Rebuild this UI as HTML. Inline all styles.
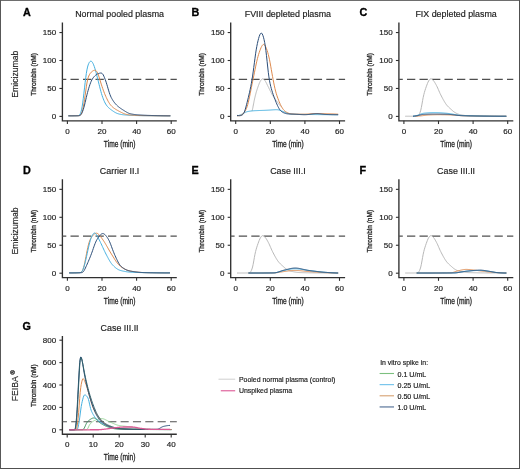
<!DOCTYPE html>
<html><head><meta charset="utf-8"><style>
html,body{margin:0;padding:0;background:#fff;width:520px;height:469px;overflow:hidden;}
svg text{font-family:"Liberation Sans", sans-serif;}
</style></head><body>
<svg width="520" height="469" viewBox="0 0 520 469" style="position:absolute;left:0;top:0;will-change:transform" font-family="Liberation Sans, sans-serif">
<rect x="0" y="0" width="520" height="469" fill="#fff"/>
<path d="M62.4,22.5 V120.85 H176.8" fill="none" stroke="#303030" stroke-width="1.35"/>
<path d="M59.4,116.4 H62.4" stroke="#303030" stroke-width="1.1"/>
<text x="56.1" y="119.25" font-size="8" text-anchor="end" font-weight="normal" fill="#1e1e1e" stroke="#1e1e1e" stroke-width="0.18" >0</text>
<path d="M59.4,88.45 H62.4" stroke="#303030" stroke-width="1.1"/>
<text x="56.1" y="91.3" font-size="8" text-anchor="end" font-weight="normal" fill="#1e1e1e" stroke="#1e1e1e" stroke-width="0.18" >50</text>
<path d="M59.4,60.5 H62.4" stroke="#303030" stroke-width="1.1"/>
<text x="56.1" y="63.35" font-size="8" text-anchor="end" font-weight="normal" fill="#1e1e1e" stroke="#1e1e1e" stroke-width="0.18" >100</text>
<path d="M59.4,32.55 H62.4" stroke="#303030" stroke-width="1.1"/>
<text x="56.1" y="35.4" font-size="8" text-anchor="end" font-weight="normal" fill="#1e1e1e" stroke="#1e1e1e" stroke-width="0.18" >150</text>
<path d="M67.4,120.85 V124.05" stroke="#303030" stroke-width="1.1"/>
<text x="67.4" y="133.95" font-size="8" text-anchor="middle" font-weight="normal" fill="#1e1e1e" stroke="#1e1e1e" stroke-width="0.18" >0</text>
<path d="M102,120.85 V124.05" stroke="#303030" stroke-width="1.1"/>
<text x="102" y="133.95" font-size="8" text-anchor="middle" font-weight="normal" fill="#1e1e1e" stroke="#1e1e1e" stroke-width="0.18" >20</text>
<path d="M136.6,120.85 V124.05" stroke="#303030" stroke-width="1.1"/>
<text x="136.6" y="133.95" font-size="8" text-anchor="middle" font-weight="normal" fill="#1e1e1e" stroke="#1e1e1e" stroke-width="0.18" >40</text>
<path d="M171.2,120.85 V124.05" stroke="#303030" stroke-width="1.1"/>
<text x="171.2" y="133.95" font-size="8" text-anchor="middle" font-weight="normal" fill="#1e1e1e" stroke="#1e1e1e" stroke-width="0.18" >60</text>
<text transform="translate(119.6,146.75) scale(0.74,1)" font-size="9" text-anchor="middle" fill="#222" stroke="#222" stroke-width="0.3">Time (min)</text>
<text x="119.6" y="17.3" font-size="8.9" text-anchor="middle" font-weight="normal" fill="#1e1e1e" stroke="#1e1e1e" stroke-width="0.18" >Normal pooled plasma</text>
<text x="23.1" y="16.2" font-size="10.8" text-anchor="start" font-weight="bold" fill="#000" stroke="#000" stroke-width="0.3" >A</text>
<text transform="translate(35.8,74.47) rotate(-90) scale(0.815,1)" font-size="8" text-anchor="middle" fill="#222" stroke="#222" stroke-width="0.3">Thrombin (nM)</text>
<path d="M62.4,79.34 H176.8" stroke="#505050" stroke-width="1.1" stroke-dasharray="8.3 4.2" stroke-dashoffset="4.4"/>
<path d="M68.78,115.84 L69.39,115.84 L70,115.84 L70.6,115.84 L71.21,115.83 L71.81,115.83 L72.42,115.83 L73.02,115.82 L73.63,115.82 L74.23,115.81 L74.84,115.8 L75.44,115.79 L76.05,115.78 L76.66,115.76 L77.26,115.74 L77.87,115.7 L78.47,115.6 L79.08,115.35 L79.68,114.8 L80.29,113.81 L80.89,112.21 L81.5,109.91 L82.11,106.81 L82.71,102.9 L83.32,98.29 L83.92,93.18 L84.53,87.86 L85.13,82.62 L85.74,77.74 L86.34,73.44 L86.95,69.86 L87.55,67.05 L88.16,64.95 L88.77,63.43 L89.37,62.34 L89.98,61.6 L90.58,61.2 L91.19,61.19 L91.79,61.57 L92.4,62.35 L93,63.45 L93.61,64.81 L94.22,66.39 L94.82,68.18 L95.43,70.19 L96.03,72.38 L96.64,74.71 L97.24,77.09 L97.85,79.5 L98.45,81.92 L99.06,84.34 L99.66,86.76 L100.27,89.14 L100.88,91.42 L101.48,93.55 L102.09,95.51 L102.69,97.29 L103.3,98.92 L103.9,100.42 L104.51,101.78 L105.11,103.01 L105.72,104.09 L106.33,105.03 L106.93,105.85 L107.54,106.57 L108.14,107.22 L108.75,107.81 L109.35,108.35 L109.96,108.85 L110.56,109.33 L111.17,109.78 L111.77,110.22 L112.38,110.65 L112.99,111.07 L113.59,111.48 L114.2,111.87 L114.8,112.25 L115.41,112.59 L116.01,112.91 L116.62,113.19 L117.22,113.44 L117.83,113.65 L118.44,113.84 L119.04,114.01 L119.65,114.16 L120.25,114.3 L120.86,114.42 L121.46,114.53 L122.07,114.62 L122.67,114.7 L123.28,114.77 L123.88,114.83 L124.49,114.89 L125.1,114.94 L125.7,115 L126.31,115.05 L126.91,115.1 L127.52,115.14 L128.12,115.19 L128.73,115.23 L129.33,115.27 L129.94,115.3 L130.55,115.34 L131.15,115.37 L131.76,115.4 L132.36,115.43 L132.97,115.46 L133.57,115.48 L134.18,115.5 L134.78,115.52 L135.39,115.53 L135.99,115.55 L136.6,115.56 L137.21,115.57 L137.81,115.58 L138.42,115.59 L139.02,115.6 L139.63,115.61 L140.23,115.62 L140.84,115.63 L141.44,115.64 L142.05,115.64 L142.66,115.65 L143.26,115.66 L143.87,115.67 L144.47,115.68 L145.08,115.68 L145.68,115.69 L146.29,115.7 L146.89,115.71 L147.5,115.71 L148.1,115.72 L148.71,115.73 L149.32,115.73 L149.92,115.74 L150.53,115.74 L151.13,115.75 L151.74,115.76 L152.34,115.76 L152.95,115.77 L153.55,115.77 L154.16,115.78 L154.77,115.78 L155.37,115.79 L155.98,115.79 L156.58,115.79 L157.19,115.8 L157.79,115.8 L158.4,115.81 L159,115.81 L159.61,115.81 L160.21,115.82 L160.82,115.82 L161.43,115.82 L162.03,115.82 L162.64,115.83 L163.24,115.83 L163.85,115.83 L164.45,115.83 L165.06,115.83 L165.66,115.84 L166.27,115.84 L166.88,115.84 L167.48,115.84 L168.09,115.84 L168.69,115.84 L169.3,115.84 L169.9,115.84 L169.99,115.84" fill="none" stroke="#45b0e0" stroke-width="1.0" stroke-opacity="1.0" stroke-linejoin="round" stroke-linecap="round"/>
<path d="M68.78,115.84 L69.39,115.84 L70,115.84 L70.6,115.84 L71.21,115.84 L71.81,115.83 L72.42,115.83 L73.02,115.83 L73.63,115.82 L74.23,115.81 L74.84,115.81 L75.44,115.8 L76.05,115.79 L76.66,115.78 L77.26,115.76 L77.87,115.75 L78.47,115.72 L79.08,115.66 L79.68,115.51 L80.29,115.16 L80.89,114.48 L81.5,113.36 L82.11,111.74 L82.71,109.56 L83.32,106.79 L83.92,103.44 L84.53,99.59 L85.13,95.39 L85.74,91.04 L86.34,86.83 L86.95,83.07 L87.55,80.03 L88.16,77.73 L88.77,76.04 L89.37,74.76 L89.98,73.76 L90.58,72.95 L91.19,72.28 L91.79,71.72 L92.4,71.23 L93,70.82 L93.61,70.51 L94.22,70.32 L94.82,70.28 L95.43,70.41 L96.03,70.75 L96.64,71.33 L97.24,72.2 L97.85,73.45 L98.45,75.07 L99.06,76.98 L99.66,79.01 L100.27,81.03 L100.88,82.98 L101.48,84.87 L102.09,86.69 L102.69,88.46 L103.3,90.17 L103.9,91.81 L104.51,93.37 L105.11,94.86 L105.72,96.27 L106.33,97.61 L106.93,98.89 L107.54,100.11 L108.14,101.27 L108.75,102.34 L109.35,103.32 L109.96,104.2 L110.56,104.98 L111.17,105.67 L111.77,106.29 L112.38,106.85 L112.99,107.37 L113.59,107.86 L114.2,108.31 L114.8,108.73 L115.41,109.13 L116.01,109.51 L116.62,109.87 L117.22,110.22 L117.83,110.55 L118.44,110.89 L119.04,111.22 L119.65,111.54 L120.25,111.86 L120.86,112.18 L121.46,112.48 L122.07,112.78 L122.67,113.06 L123.28,113.33 L123.88,113.58 L124.49,113.81 L125.1,114.02 L125.7,114.21 L126.31,114.37 L126.91,114.51 L127.52,114.63 L128.12,114.72 L128.73,114.8 L129.33,114.88 L129.94,114.94 L130.55,115 L131.15,115.06 L131.76,115.12 L132.36,115.17 L132.97,115.22 L133.57,115.26 L134.18,115.3 L134.78,115.34 L135.39,115.38 L135.99,115.41 L136.6,115.44 L137.21,115.47 L137.81,115.49 L138.42,115.52 L139.02,115.53 L139.63,115.55 L140.23,115.56 L140.84,115.57 L141.44,115.59 L142.05,115.6 L142.66,115.61 L143.26,115.62 L143.87,115.63 L144.47,115.64 L145.08,115.65 L145.68,115.66 L146.29,115.66 L146.89,115.67 L147.5,115.68 L148.1,115.69 L148.71,115.7 L149.32,115.71 L149.92,115.71 L150.53,115.72 L151.13,115.73 L151.74,115.74 L152.34,115.74 L152.95,115.75 L153.55,115.76 L154.16,115.76 L154.77,115.77 L155.37,115.77 L155.98,115.78 L156.58,115.78 L157.19,115.79 L157.79,115.79 L158.4,115.8 L159,115.8 L159.61,115.81 L160.21,115.81 L160.82,115.81 L161.43,115.82 L162.03,115.82 L162.64,115.82 L163.24,115.83 L163.85,115.83 L164.45,115.83 L165.06,115.83 L165.66,115.83 L166.27,115.84 L166.88,115.84 L167.48,115.84 L168.09,115.84 L168.69,115.84 L169.3,115.84 L169.9,115.84 L169.99,115.84" fill="none" stroke="#de8a4e" stroke-width="1.0" stroke-opacity="1.0" stroke-linejoin="round" stroke-linecap="round"/>
<path d="M68.78,115.84 L69.39,115.84 L70,115.84 L70.6,115.84 L71.21,115.84 L71.81,115.83 L72.42,115.83 L73.02,115.82 L73.63,115.82 L74.23,115.81 L74.84,115.8 L75.44,115.8 L76.05,115.79 L76.66,115.77 L77.26,115.76 L77.87,115.75 L78.47,115.72 L79.08,115.67 L79.68,115.54 L80.29,115.26 L80.89,114.71 L81.5,113.85 L82.11,112.65 L82.71,111.16 L83.32,109.39 L83.92,107.35 L84.53,105.05 L85.13,102.55 L85.74,99.94 L86.34,97.33 L86.95,94.82 L87.55,92.46 L88.16,90.25 L88.77,88.19 L89.37,86.24 L89.98,84.42 L90.58,82.76 L91.19,81.29 L91.79,80.02 L92.4,78.95 L93,78.04 L93.61,77.25 L94.22,76.54 L94.82,75.91 L95.43,75.35 L96.03,74.87 L96.64,74.46 L97.24,74.12 L97.85,73.83 L98.45,73.58 L99.06,73.37 L99.66,73.19 L100.27,73.07 L100.88,73.02 L101.48,73.11 L102.09,73.43 L102.69,74.06 L103.3,75.01 L103.9,76.25 L104.51,77.69 L105.11,79.26 L105.72,80.95 L106.33,82.77 L106.93,84.71 L107.54,86.76 L108.14,88.84 L108.75,90.88 L109.35,92.79 L109.96,94.52 L110.56,96.04 L111.17,97.36 L111.77,98.53 L112.38,99.58 L112.99,100.55 L113.59,101.44 L114.2,102.28 L114.8,103.05 L115.41,103.78 L116.01,104.45 L116.62,105.07 L117.22,105.66 L117.83,106.21 L118.44,106.72 L119.04,107.21 L119.65,107.67 L120.25,108.11 L120.86,108.53 L121.46,108.93 L122.07,109.33 L122.67,109.72 L123.28,110.1 L123.88,110.48 L124.49,110.86 L125.1,111.25 L125.7,111.62 L126.31,111.99 L126.91,112.35 L127.52,112.67 L128.12,112.97 L128.73,113.23 L129.33,113.45 L129.94,113.63 L130.55,113.79 L131.15,113.93 L131.76,114.05 L132.36,114.17 L132.97,114.27 L133.57,114.37 L134.18,114.45 L134.78,114.53 L135.39,114.6 L135.99,114.66 L136.6,114.72 L137.21,114.77 L137.81,114.81 L138.42,114.86 L139.02,114.9 L139.63,114.94 L140.23,114.98 L140.84,115.02 L141.44,115.06 L142.05,115.09 L142.66,115.13 L143.26,115.16 L143.87,115.19 L144.47,115.22 L145.08,115.25 L145.68,115.28 L146.29,115.31 L146.89,115.33 L147.5,115.36 L148.1,115.38 L148.71,115.4 L149.32,115.42 L149.92,115.44 L150.53,115.46 L151.13,115.48 L151.74,115.5 L152.34,115.52 L152.95,115.54 L153.55,115.55 L154.16,115.57 L154.77,115.58 L155.37,115.6 L155.98,115.61 L156.58,115.63 L157.19,115.64 L157.79,115.66 L158.4,115.67 L159,115.69 L159.61,115.7 L160.21,115.71 L160.82,115.72 L161.43,115.74 L162.03,115.75 L162.64,115.76 L163.24,115.77 L163.85,115.78 L164.45,115.79 L165.06,115.8 L165.66,115.81 L166.27,115.81 L166.88,115.82 L167.48,115.83 L168.09,115.83 L168.69,115.83 L169.3,115.84 L169.9,115.84 L169.99,115.84" fill="none" stroke="#2b4d78" stroke-width="1.0" stroke-opacity="1.0" stroke-linejoin="round" stroke-linecap="round"/>
<path d="M230.7,22.5 V120.85 H345.1" fill="none" stroke="#303030" stroke-width="1.35"/>
<path d="M227.7,116.4 H230.7" stroke="#303030" stroke-width="1.1"/>
<text x="224.4" y="119.25" font-size="8" text-anchor="end" font-weight="normal" fill="#1e1e1e" stroke="#1e1e1e" stroke-width="0.18" >0</text>
<path d="M227.7,88.45 H230.7" stroke="#303030" stroke-width="1.1"/>
<text x="224.4" y="91.3" font-size="8" text-anchor="end" font-weight="normal" fill="#1e1e1e" stroke="#1e1e1e" stroke-width="0.18" >50</text>
<path d="M227.7,60.5 H230.7" stroke="#303030" stroke-width="1.1"/>
<text x="224.4" y="63.35" font-size="8" text-anchor="end" font-weight="normal" fill="#1e1e1e" stroke="#1e1e1e" stroke-width="0.18" >100</text>
<path d="M227.7,32.55 H230.7" stroke="#303030" stroke-width="1.1"/>
<text x="224.4" y="35.4" font-size="8" text-anchor="end" font-weight="normal" fill="#1e1e1e" stroke="#1e1e1e" stroke-width="0.18" >150</text>
<path d="M235.7,120.85 V124.05" stroke="#303030" stroke-width="1.1"/>
<text x="235.7" y="133.95" font-size="8" text-anchor="middle" font-weight="normal" fill="#1e1e1e" stroke="#1e1e1e" stroke-width="0.18" >0</text>
<path d="M270.3,120.85 V124.05" stroke="#303030" stroke-width="1.1"/>
<text x="270.3" y="133.95" font-size="8" text-anchor="middle" font-weight="normal" fill="#1e1e1e" stroke="#1e1e1e" stroke-width="0.18" >20</text>
<path d="M304.9,120.85 V124.05" stroke="#303030" stroke-width="1.1"/>
<text x="304.9" y="133.95" font-size="8" text-anchor="middle" font-weight="normal" fill="#1e1e1e" stroke="#1e1e1e" stroke-width="0.18" >40</text>
<path d="M339.5,120.85 V124.05" stroke="#303030" stroke-width="1.1"/>
<text x="339.5" y="133.95" font-size="8" text-anchor="middle" font-weight="normal" fill="#1e1e1e" stroke="#1e1e1e" stroke-width="0.18" >60</text>
<text transform="translate(287.9,146.75) scale(0.74,1)" font-size="9" text-anchor="middle" fill="#222" stroke="#222" stroke-width="0.3">Time (min)</text>
<text x="287.9" y="17.3" font-size="8.9" text-anchor="middle" font-weight="normal" fill="#1e1e1e" stroke="#1e1e1e" stroke-width="0.18" >FVIII depleted plasma</text>
<text x="191.4" y="16.2" font-size="10.8" text-anchor="start" font-weight="bold" fill="#000" stroke="#000" stroke-width="0.3" >B</text>
<text transform="translate(204.1,74.47) rotate(-90) scale(0.815,1)" font-size="8" text-anchor="middle" fill="#222" stroke="#222" stroke-width="0.3">Thrombin (nM)</text>
<path d="M230.7,79.34 H345.1" stroke="#505050" stroke-width="1.1" stroke-dasharray="8.3 4.2" stroke-dashoffset="4.4"/>
<path d="M252.13,110.7 L252.31,110.13 L252.48,109.44 L252.65,108.64 L252.83,107.78 L253,106.87 L253.17,105.95 L253.35,105.03 L253.52,104.11 L253.69,103.21 L253.87,102.33 L254.04,101.46 L254.21,100.62 L254.38,99.8 L254.56,99 L254.73,98.22 L254.9,97.46 L255.08,96.72 L255.25,96 L255.42,95.31 L255.6,94.63 L255.77,93.97 L255.94,93.33 L256.11,92.71 L256.29,92.11 L256.46,91.52 L256.63,90.94 L256.81,90.38 L256.98,89.84 L257.15,89.3 L257.33,88.78 L257.5,88.27 L257.67,87.77 L257.84,87.28 L258.02,86.79 L258.19,86.31 L258.36,85.83 L258.54,85.36 L258.71,84.9 L258.88,84.44 L259.06,83.99 L259.23,83.55 L259.4,83.12 L259.57,82.71 L259.75,82.32 L259.92,81.95 L260.09,81.6 L260.27,81.27 L260.44,80.97 L260.61,80.69 L260.79,80.43 L260.96,80.18 L261.13,79.96 L261.3,79.75 L261.48,79.56 L261.65,79.38 L261.82,79.22 L262,79.09 L262.17,78.98 L262.34,78.9 L262.52,78.84 L262.69,78.82 L262.86,78.83 L263.03,78.87 L263.21,78.94 L263.38,79.04 L263.55,79.16 L263.73,79.29 L263.9,79.45 L264.07,79.62 L264.25,79.8 L264.42,79.98 L264.59,80.18 L264.76,80.39 L264.94,80.61 L265.11,80.85 L265.28,81.1 L265.46,81.36 L265.63,81.64 L265.8,81.94 L265.98,82.25 L266.15,82.57 L266.32,82.9 L266.49,83.24 L266.67,83.59 L266.84,83.94 L267.01,84.3 L267.19,84.65 L267.36,85.01 L267.53,85.37 L267.71,85.72 L267.88,86.07 L268.05,86.42 L268.22,86.76 L268.4,87.11 L268.57,87.45 L268.74,87.79 L268.92,88.14 L269.09,88.49 L269.26,88.84 L269.44,89.19 L269.61,89.54 L269.78,89.89 L269.95,90.24 L270.13,90.6 L270.3,90.95 L270.47,91.3 L270.65,91.65 L270.82,91.99 L270.99,92.34 L271.17,92.67 L271.34,93.01 L271.51,93.34 L271.68,93.66 L271.86,93.98 L272.03,94.29 L272.2,94.6 L272.38,94.89 L272.55,95.19 L272.72,95.47 L272.9,95.75 L273.07,96.03 L273.24,96.3 L273.41,96.57 L273.59,96.83 L273.76,97.09 L273.93,97.35 L274.11,97.6 L274.28,97.85 L274.45,98.1 L274.63,98.34 L274.8,98.59 L274.97,98.83 L275.14,99.07 L275.32,99.3 L275.49,99.54 L275.66,99.77 L275.84,100 L276.01,100.24 L276.18,100.47 L276.36,100.7 L276.53,100.92 L276.7,101.15 L276.87,101.38 L277.05,101.61 L277.22,101.84 L277.39,102.07 L277.57,102.3 L277.74,102.52 L277.91,102.75 L278.09,102.98 L278.26,103.21 L278.43,103.44 L278.6,103.67 L278.78,103.9 L278.95,104.12 L279.12,104.35 L279.3,104.57 L279.47,104.79 L279.64,105.01 L279.82,105.23 L279.99,105.43 L280.16,105.63 L280.33,105.8 L280.51,105.95 L280.68,106.08" fill="none" stroke="#b8b8b8" stroke-width="1.0" stroke-opacity="1.0" stroke-linejoin="round" stroke-linecap="round"/>
<path d="M237.43,115.73 L238.04,115.62 L238.64,115.47 L239.25,115.29 L239.85,115.09 L240.46,114.85 L241.06,114.59 L241.67,114.29 L242.27,113.96 L242.88,113.61 L243.48,113.25 L244.09,112.9 L244.7,112.57 L245.3,112.29 L245.91,112.05 L246.51,111.86 L247.12,111.7 L247.72,111.56 L248.33,111.44 L248.93,111.33 L249.54,111.22 L250.15,111.13 L250.75,111.05 L251.36,110.97 L251.96,110.91 L252.57,110.85 L253.17,110.81 L253.78,110.76 L254.38,110.73 L254.99,110.69 L255.59,110.66 L256.2,110.63 L256.81,110.61 L257.41,110.58 L258.02,110.56 L258.62,110.54 L259.23,110.51 L259.83,110.49 L260.44,110.48 L261.04,110.46 L261.65,110.44 L262.26,110.42 L262.86,110.4 L263.47,110.38 L264.07,110.36 L264.68,110.34 L265.28,110.31 L265.89,110.29 L266.49,110.26 L267.1,110.23 L267.71,110.2 L268.31,110.17 L268.92,110.13 L269.52,110.09 L270.13,110.05 L270.73,110 L271.34,109.96 L271.94,109.92 L272.55,109.88 L273.15,109.84 L273.76,109.81 L274.37,109.78 L274.97,109.75 L275.58,109.73 L276.18,109.72 L276.79,109.72 L277.39,109.75 L278,109.82 L278.6,109.92 L279.21,110.06 L279.82,110.25 L280.42,110.46 L281.03,110.69 L281.63,110.93 L282.24,111.18 L282.84,111.43 L283.45,111.66 L284.05,111.89 L284.66,112.12 L285.26,112.35 L285.87,112.59 L286.48,112.83 L287.08,113.07 L287.69,113.3 L288.29,113.51 L288.9,113.71 L289.5,113.87 L290.11,113.99 L290.71,114.09 L291.32,114.15 L291.93,114.19 L292.53,114.22 L293.14,114.24 L293.74,114.26 L294.35,114.27 L294.95,114.29 L295.56,114.31 L296.16,114.32 L296.77,114.33 L297.37,114.34 L297.98,114.35 L298.59,114.36 L299.19,114.37 L299.8,114.38 L300.4,114.39 L301.01,114.4 L301.61,114.4 L302.22,114.41 L302.82,114.42 L303.43,114.43 L304.04,114.43 L304.64,114.44 L305.25,114.45 L305.85,114.46 L306.46,114.46 L307.06,114.47 L307.67,114.48 L308.27,114.49 L308.88,114.49 L309.48,114.5 L310.09,114.51 L310.7,114.52 L311.3,114.52 L311.91,114.53 L312.51,114.54 L313.12,114.55 L313.72,114.55 L314.33,114.56 L314.93,114.57 L315.54,114.57 L316.15,114.58 L316.75,114.59 L317.36,114.59 L317.96,114.6 L318.57,114.61 L319.17,114.61 L319.78,114.62 L320.38,114.62 L320.99,114.63 L321.59,114.64 L322.2,114.64 L322.81,114.65 L323.41,114.65 L324.02,114.66 L324.62,114.66 L325.23,114.67 L325.83,114.67 L326.44,114.68 L327.04,114.68 L327.65,114.69 L328.26,114.69 L328.86,114.69 L329.47,114.7 L330.07,114.7 L330.68,114.7 L331.28,114.71 L331.89,114.71 L332.49,114.71 L333.1,114.71 L333.7,114.72 L334.31,114.72 L334.92,114.72 L335.52,114.72 L336.13,114.72 L336.73,114.72 L337.34,114.72 L337.77,114.72" fill="none" stroke="#45b0e0" stroke-width="1.0" stroke-opacity="1.0" stroke-linejoin="round" stroke-linecap="round"/>
<path d="M237.43,115.81 L238.04,115.77 L238.64,115.71 L239.25,115.62 L239.85,115.49 L240.46,115.33 L241.06,115.1 L241.67,114.79 L242.27,114.39 L242.88,113.87 L243.48,113.26 L244.09,112.53 L244.7,111.71 L245.3,110.76 L245.91,109.64 L246.51,108.28 L247.12,106.61 L247.72,104.59 L248.33,102.24 L248.93,99.61 L249.54,96.77 L250.15,93.78 L250.75,90.71 L251.36,87.63 L251.96,84.6 L252.57,81.62 L253.17,78.69 L253.78,75.76 L254.38,72.8 L254.99,69.82 L255.59,66.86 L256.2,63.97 L256.81,61.23 L257.41,58.7 L258.02,56.41 L258.62,54.35 L259.23,52.48 L259.83,50.76 L260.44,49.16 L261.04,47.71 L261.65,46.45 L262.26,45.44 L262.86,44.74 L263.47,44.42 L264.07,44.51 L264.68,45.02 L265.28,45.93 L265.89,47.18 L266.49,48.7 L267.1,50.44 L267.71,52.38 L268.31,54.54 L268.92,57 L269.52,59.77 L270.13,62.86 L270.73,66.19 L271.34,69.64 L271.94,73.11 L272.55,76.5 L273.15,79.78 L273.76,82.92 L274.37,85.88 L274.97,88.61 L275.58,91.08 L276.18,93.26 L276.79,95.22 L277.39,97 L278,98.67 L278.6,100.25 L279.21,101.77 L279.82,103.21 L280.42,104.55 L281.03,105.78 L281.63,106.89 L282.24,107.89 L282.84,108.79 L283.45,109.59 L284.05,110.29 L284.66,110.89 L285.26,111.39 L285.87,111.81 L286.48,112.19 L287.08,112.52 L287.69,112.82 L288.29,113.09 L288.9,113.33 L289.5,113.52 L290.11,113.67 L290.71,113.79 L291.32,113.88 L291.93,113.95 L292.53,114 L293.14,114.04 L293.74,114.08 L294.35,114.11 L294.95,114.13 L295.56,114.15 L296.16,114.16 L296.77,114.16 L297.37,114.16 L297.98,114.16 L298.59,114.16 L299.19,114.16 L299.8,114.16 L300.4,114.16 L301.01,114.16 L301.61,114.16 L302.22,114.16 L302.82,114.16 L303.43,114.16 L304.04,114.16 L304.64,114.16 L305.25,114.15 L305.85,114.13 L306.46,114.1 L307.06,114.06 L307.67,114.02 L308.27,113.97 L308.88,113.92 L309.48,113.86 L310.09,113.81 L310.7,113.76 L311.3,113.71 L311.91,113.67 L312.51,113.64 L313.12,113.62 L313.72,113.61 L314.33,113.61 L314.93,113.61 L315.54,113.61 L316.15,113.61 L316.75,113.61 L317.36,113.61 L317.96,113.61 L318.57,113.61 L319.17,113.61 L319.78,113.62 L320.38,113.62 L320.99,113.62 L321.59,113.63 L322.2,113.63 L322.81,113.64 L323.41,113.64 L324.02,113.65 L324.62,113.66 L325.23,113.67 L325.83,113.68 L326.44,113.69 L327.04,113.7 L327.65,113.72 L328.26,113.73 L328.86,113.75 L329.47,113.77 L330.07,113.78 L330.68,113.8 L331.28,113.83 L331.89,113.85 L332.49,113.87 L333.1,113.9 L333.7,113.93 L334.31,113.96 L334.92,113.99 L335.52,114.02 L336.13,114.06 L336.73,114.09 L337.34,114.12 L337.77,114.14" fill="none" stroke="#de8a4e" stroke-width="1.0" stroke-opacity="1.0" stroke-linejoin="round" stroke-linecap="round"/>
<path d="M237.43,115.44 L238.04,115.55 L238.64,115.65 L239.25,115.71 L239.85,115.7 L240.46,115.61 L241.06,115.47 L241.67,115.25 L242.27,114.92 L242.88,114.43 L243.48,113.67 L244.09,112.55 L244.7,111.04 L245.3,109.19 L245.91,107.06 L246.51,104.77 L247.12,102.39 L247.72,99.96 L248.33,97.49 L248.93,94.95 L249.54,92.31 L250.15,89.52 L250.75,86.55 L251.36,83.38 L251.96,79.93 L252.57,76.12 L253.17,71.94 L253.78,67.45 L254.38,62.79 L254.99,58.18 L255.59,53.82 L256.2,49.88 L256.81,46.42 L257.41,43.42 L258.02,40.78 L258.62,38.45 L259.23,36.42 L259.83,34.79 L260.44,33.65 L261.04,33.1 L261.65,33.2 L262.26,33.96 L262.86,35.33 L263.47,37.23 L264.07,39.63 L264.68,42.55 L265.28,46.14 L265.89,50.52 L266.49,55.67 L267.1,61.3 L267.71,67.01 L268.31,72.31 L268.92,76.91 L269.52,80.71 L270.13,83.81 L270.73,86.42 L271.34,88.7 L271.94,90.77 L272.55,92.68 L273.15,94.47 L273.76,96.17 L274.37,97.81 L274.97,99.41 L275.58,100.97 L276.18,102.5 L276.79,103.95 L277.39,105.32 L278,106.58 L278.6,107.74 L279.21,108.78 L279.82,109.7 L280.42,110.48 L281.03,111.1 L281.63,111.6 L282.24,112.01 L282.84,112.36 L283.45,112.66 L284.05,112.93 L284.66,113.17 L285.26,113.38 L285.87,113.55 L286.48,113.68 L287.08,113.79 L287.69,113.86 L288.29,113.91 L288.9,113.95 L289.5,113.99 L290.11,114.01 L290.71,114.03 L291.32,114.05 L291.93,114.07 L292.53,114.09 L293.14,114.11 L293.74,114.14 L294.35,114.16 L294.95,114.19 L295.56,114.22 L296.16,114.26 L296.77,114.3 L297.37,114.34 L297.98,114.38 L298.59,114.42 L299.19,114.46 L299.8,114.51 L300.4,114.55 L301.01,114.58 L301.61,114.62 L302.22,114.65 L302.82,114.67 L303.43,114.69 L304.04,114.7 L304.64,114.71 L305.25,114.7 L305.85,114.68 L306.46,114.65 L307.06,114.61 L307.67,114.56 L308.27,114.5 L308.88,114.43 L309.48,114.36 L310.09,114.28 L310.7,114.2 L311.3,114.12 L311.91,114.04 L312.51,113.96 L313.12,113.89 L313.72,113.82 L314.33,113.76 L314.93,113.71 L315.54,113.67 L316.15,113.64 L316.75,113.63 L317.36,113.63 L317.96,113.65 L318.57,113.69 L319.17,113.74 L319.78,113.8 L320.38,113.87 L320.99,113.94 L321.59,114.02 L322.2,114.1 L322.81,114.17 L323.41,114.24 L324.02,114.31 L324.62,114.36 L325.23,114.41 L325.83,114.44 L326.44,114.47 L327.04,114.49 L327.65,114.52 L328.26,114.54 L328.86,114.56 L329.47,114.58 L330.07,114.6 L330.68,114.61 L331.28,114.63 L331.89,114.64 L332.49,114.66 L333.1,114.67 L333.7,114.68 L334.31,114.69 L334.92,114.7 L335.52,114.71 L336.13,114.71 L336.73,114.72 L337.34,114.72 L337.77,114.72" fill="none" stroke="#2b4d78" stroke-width="1.0" stroke-opacity="1.0" stroke-linejoin="round" stroke-linecap="round"/>
<path d="M398.9,22.5 V120.85 H513.3" fill="none" stroke="#303030" stroke-width="1.35"/>
<path d="M395.9,116.4 H398.9" stroke="#303030" stroke-width="1.1"/>
<text x="392.6" y="119.25" font-size="8" text-anchor="end" font-weight="normal" fill="#1e1e1e" stroke="#1e1e1e" stroke-width="0.18" >0</text>
<path d="M395.9,88.45 H398.9" stroke="#303030" stroke-width="1.1"/>
<text x="392.6" y="91.3" font-size="8" text-anchor="end" font-weight="normal" fill="#1e1e1e" stroke="#1e1e1e" stroke-width="0.18" >50</text>
<path d="M395.9,60.5 H398.9" stroke="#303030" stroke-width="1.1"/>
<text x="392.6" y="63.35" font-size="8" text-anchor="end" font-weight="normal" fill="#1e1e1e" stroke="#1e1e1e" stroke-width="0.18" >100</text>
<path d="M395.9,32.55 H398.9" stroke="#303030" stroke-width="1.1"/>
<text x="392.6" y="35.4" font-size="8" text-anchor="end" font-weight="normal" fill="#1e1e1e" stroke="#1e1e1e" stroke-width="0.18" >150</text>
<path d="M403.9,120.85 V124.05" stroke="#303030" stroke-width="1.1"/>
<text x="403.9" y="133.95" font-size="8" text-anchor="middle" font-weight="normal" fill="#1e1e1e" stroke="#1e1e1e" stroke-width="0.18" >0</text>
<path d="M438.5,120.85 V124.05" stroke="#303030" stroke-width="1.1"/>
<text x="438.5" y="133.95" font-size="8" text-anchor="middle" font-weight="normal" fill="#1e1e1e" stroke="#1e1e1e" stroke-width="0.18" >20</text>
<path d="M473.1,120.85 V124.05" stroke="#303030" stroke-width="1.1"/>
<text x="473.1" y="133.95" font-size="8" text-anchor="middle" font-weight="normal" fill="#1e1e1e" stroke="#1e1e1e" stroke-width="0.18" >40</text>
<path d="M507.7,120.85 V124.05" stroke="#303030" stroke-width="1.1"/>
<text x="507.7" y="133.95" font-size="8" text-anchor="middle" font-weight="normal" fill="#1e1e1e" stroke="#1e1e1e" stroke-width="0.18" >60</text>
<text transform="translate(456.1,146.75) scale(0.74,1)" font-size="9" text-anchor="middle" fill="#222" stroke="#222" stroke-width="0.3">Time (min)</text>
<text x="456.1" y="17.3" font-size="8.9" text-anchor="middle" font-weight="normal" fill="#1e1e1e" stroke="#1e1e1e" stroke-width="0.18" >FIX depleted plasma</text>
<text x="359.6" y="16.2" font-size="10.8" text-anchor="start" font-weight="bold" fill="#000" stroke="#000" stroke-width="0.3" >C</text>
<text transform="translate(372.3,74.47) rotate(-90) scale(0.815,1)" font-size="8" text-anchor="middle" fill="#222" stroke="#222" stroke-width="0.3">Thrombin (nM)</text>
<path d="M398.9,79.34 H513.3" stroke="#505050" stroke-width="1.1" stroke-dasharray="8.3 4.2" stroke-dashoffset="4.4"/>
<path d="M405.63,116.23 L406.24,116.23 L406.84,116.23 L407.45,116.23 L408.05,116.23 L408.66,116.23 L409.26,116.23 L409.87,116.22 L410.47,116.22 L411.08,116.22 L411.69,116.21 L412.29,116.21 L412.9,116.2 L413.5,116.19 L414.11,116.19 L414.71,116.18 L415.32,116.17 L415.92,116.16 L416.53,116.15 L417.13,116.12 L417.74,116.01 L418.35,115.62 L418.95,114.82 L419.56,113.66 L420.16,112.19 L420.77,110.2 L421.37,107.46 L421.98,104.14 L422.58,100.64 L423.19,97.41 L423.8,94.7 L424.4,92.41 L425.01,90.38 L425.61,88.53 L426.22,86.79 L426.82,85.13 L427.43,83.55 L428.03,82.13 L428.64,80.97 L429.24,80.07 L429.85,79.38 L430.46,78.93 L431.06,78.81 L431.67,79.02 L432.27,79.46 L432.88,80.01 L433.48,80.67 L434.09,81.45 L434.69,82.37 L435.3,83.38 L435.9,84.45 L436.51,85.57 L437.12,86.77 L437.72,88.07 L438.33,89.46 L438.93,90.87 L439.54,92.27 L440.14,93.6 L440.75,94.85 L441.35,96.04 L441.96,97.19 L442.57,98.33 L443.17,99.45 L443.78,100.53 L444.38,101.57 L444.99,102.56 L445.59,103.49 L446.2,104.36 L446.8,105.15 L447.41,105.87 L448.01,106.52 L448.62,107.13 L449.23,107.7 L449.83,108.24 L450.44,108.78 L451.04,109.31 L451.65,109.86 L452.25,110.41 L452.86,110.96 L453.46,111.46 L454.07,111.91 L454.68,112.3 L455.28,112.68 L455.89,113.03 L456.49,113.36 L457.1,113.66 L457.7,113.92 L458.31,114.15 L458.91,114.34 L459.52,114.5 L460.12,114.63 L460.73,114.76 L461.34,114.88 L461.94,114.99 L462.55,115.1 L463.15,115.2 L463.76,115.3 L464.36,115.39 L464.97,115.47 L465.57,115.55 L466.18,115.61 L466.79,115.67 L467.39,115.72 L468,115.77 L468.6,115.8 L469.21,115.83 L469.81,115.84 L470.42,115.86 L471.02,115.87 L471.63,115.89 L472.24,115.9 L472.84,115.91 L473.45,115.93 L474.05,115.94 L474.66,115.95 L475.26,115.96 L475.87,115.97 L476.47,115.98 L477.08,115.99 L477.68,116.01 L478.29,116.02 L478.9,116.03 L479.5,116.04 L480.11,116.05 L480.71,116.05 L481.32,116.06 L481.92,116.07 L482.53,116.08 L483.13,116.09 L483.74,116.1 L484.35,116.1 L484.95,116.11 L485.56,116.12 L486.16,116.13 L486.77,116.13 L487.37,116.14 L487.98,116.15 L488.58,116.15 L489.19,116.16 L489.79,116.16 L490.4,116.17 L491.01,116.17 L491.61,116.18 L492.22,116.18 L492.82,116.19 L493.43,116.19 L494.03,116.2 L494.64,116.2 L495.24,116.2 L495.85,116.21 L496.46,116.21 L497.06,116.21 L497.67,116.21 L498.27,116.22 L498.88,116.22 L499.48,116.22 L500.09,116.22 L500.69,116.23 L501.3,116.23 L501.9,116.23 L502.51,116.23 L503.12,116.23 L503.72,116.23 L504.33,116.23 L504.93,116.23 L505.54,116.23 L505.97,116.23" fill="none" stroke="#b8b8b8" stroke-width="1.0" stroke-opacity="1.0" stroke-linejoin="round" stroke-linecap="round"/>
<path d="M415.14,116.21 L415.66,116.2 L416.18,116.18 L416.7,116.15 L417.22,116.13 L417.74,116.09 L418.26,116.06 L418.78,116.03 L419.3,115.99 L419.82,115.95 L420.33,115.91 L420.85,115.86 L421.37,115.81 L421.89,115.76 L422.41,115.7 L422.93,115.63 L423.45,115.56 L423.97,115.49 L424.49,115.42 L425.01,115.34 L425.52,115.27 L426.04,115.21 L426.56,115.15 L427.08,115.1 L427.6,115.05 L428.12,115.02 L428.64,114.99 L429.16,114.96 L429.68,114.94 L430.2,114.91 L430.71,114.89 L431.23,114.87 L431.75,114.86 L432.27,114.84 L432.79,114.82 L433.31,114.81 L433.83,114.79 L434.35,114.78 L434.87,114.77 L435.39,114.76 L435.9,114.75 L436.42,114.74 L436.94,114.73 L437.46,114.73 L437.98,114.73 L438.5,114.73 L439.02,114.73 L439.54,114.73 L440.06,114.73 L440.58,114.73 L441.09,114.74 L441.61,114.74 L442.13,114.75 L442.65,114.76 L443.17,114.76 L443.69,114.77 L444.21,114.78 L444.73,114.79 L445.25,114.8 L445.77,114.82 L446.28,114.83 L446.8,114.84 L447.32,114.85 L447.84,114.87 L448.36,114.88 L448.88,114.9 L449.4,114.91 L449.92,114.93 L450.44,114.94 L450.96,114.96 L451.47,114.98 L451.99,114.99 L452.51,115.02 L453.03,115.04 L453.55,115.07 L454.07,115.1 L454.59,115.13 L455.11,115.17 L455.63,115.21 L456.15,115.26 L456.66,115.3 L457.18,115.35 L457.7,115.39 L458.22,115.44 L458.74,115.48 L459.26,115.52 L459.78,115.57 L460.3,115.6 L460.82,115.64 L461.34,115.67 L461.85,115.69 L462.37,115.71 L462.89,115.73 L463.41,115.74 L463.93,115.76 L464.45,115.77 L464.97,115.78 L465.49,115.79 L466.01,115.8 L466.53,115.81 L467.04,115.82 L467.56,115.84 L468.08,115.85 L468.6,115.86 L469.12,115.87 L469.64,115.88 L470.16,115.89 L470.68,115.9 L471.2,115.91 L471.72,115.92 L472.23,115.93 L472.75,115.94 L473.27,115.95 L473.79,115.95 L474.31,115.96 L474.83,115.97 L475.35,115.98 L475.87,115.99 L476.39,116 L476.91,116.01 L477.42,116.01 L477.94,116.02 L478.46,116.03 L478.98,116.04 L479.5,116.04 L480.02,116.05 L480.54,116.06 L481.06,116.07 L481.58,116.07 L482.1,116.08 L482.61,116.09 L483.13,116.09 L483.65,116.1 L484.17,116.1 L484.69,116.11 L485.21,116.12 L485.73,116.12 L486.25,116.13 L486.77,116.13 L487.29,116.14 L487.8,116.14 L488.32,116.15 L488.84,116.15 L489.36,116.16 L489.88,116.16 L490.4,116.17 L490.92,116.17 L491.44,116.18 L491.96,116.18 L492.48,116.18 L492.99,116.19 L493.51,116.19 L494.03,116.19 L494.55,116.2 L495.07,116.2 L495.59,116.2 L496.11,116.21 L496.63,116.21 L497.15,116.21 L497.67,116.21 L498.18,116.22 L498.7,116.22 L499.22,116.22 L499.74,116.22 L500.26,116.22 L500.78,116.22 L501.3,116.23 L501.82,116.23 L502.34,116.23 L502.86,116.23 L503.37,116.23 L503.89,116.23 L504.41,116.23 L504.93,116.23 L505.45,116.23 L505.97,116.23" fill="none" stroke="#de8a4e" stroke-width="1.0" stroke-opacity="1.0" stroke-linejoin="round" stroke-linecap="round"/>
<path d="M413.41,116.16 L413.93,116.1 L414.45,116.03 L414.97,115.93 L415.49,115.83 L416.01,115.71 L416.53,115.58 L417.05,115.45 L417.57,115.29 L418.09,115.13 L418.6,114.94 L419.12,114.73 L419.64,114.51 L420.16,114.29 L420.68,114.07 L421.2,113.87 L421.72,113.69 L422.24,113.54 L422.76,113.41 L423.28,113.32 L423.79,113.25 L424.31,113.18 L424.83,113.13 L425.35,113.08 L425.87,113.03 L426.39,112.98 L426.91,112.94 L427.43,112.9 L427.95,112.86 L428.47,112.83 L428.98,112.79 L429.5,112.76 L430.02,112.74 L430.54,112.71 L431.06,112.69 L431.58,112.67 L432.1,112.65 L432.62,112.64 L433.14,112.62 L433.66,112.61 L434.17,112.61 L434.69,112.61 L435.21,112.61 L435.73,112.61 L436.25,112.62 L436.77,112.63 L437.29,112.64 L437.81,112.66 L438.33,112.68 L438.85,112.71 L439.36,112.73 L439.88,112.76 L440.4,112.79 L440.92,112.83 L441.44,112.86 L441.96,112.9 L442.48,112.94 L443,112.98 L443.52,113.02 L444.04,113.06 L444.55,113.11 L445.07,113.15 L445.59,113.19 L446.11,113.24 L446.63,113.28 L447.15,113.33 L447.67,113.38 L448.19,113.44 L448.71,113.5 L449.23,113.57 L449.74,113.64 L450.26,113.72 L450.78,113.8 L451.3,113.88 L451.82,113.97 L452.34,114.06 L452.86,114.16 L453.38,114.25 L453.9,114.35 L454.42,114.45 L454.93,114.54 L455.45,114.64 L455.97,114.73 L456.49,114.82 L457.01,114.91 L457.53,115 L458.05,115.08 L458.57,115.16 L459.09,115.23 L459.61,115.29 L460.12,115.35 L460.64,115.41 L461.16,115.45 L461.68,115.49 L462.2,115.53 L462.72,115.55 L463.24,115.57 L463.76,115.59 L464.28,115.61 L464.8,115.63 L465.31,115.64 L465.83,115.66 L466.35,115.67 L466.87,115.69 L467.39,115.7 L467.91,115.72 L468.43,115.73 L468.95,115.75 L469.47,115.76 L469.99,115.77 L470.5,115.79 L471.02,115.8 L471.54,115.81 L472.06,115.83 L472.58,115.84 L473.1,115.85 L473.62,115.86 L474.14,115.87 L474.66,115.89 L475.18,115.9 L475.69,115.91 L476.21,115.92 L476.73,115.93 L477.25,115.94 L477.77,115.95 L478.29,115.96 L478.81,115.97 L479.33,115.98 L479.85,115.99 L480.37,116 L480.88,116.01 L481.4,116.02 L481.92,116.03 L482.44,116.04 L482.96,116.05 L483.48,116.06 L484,116.06 L484.52,116.07 L485.04,116.08 L485.56,116.09 L486.07,116.1 L486.59,116.1 L487.11,116.11 L487.63,116.12 L488.15,116.12 L488.67,116.13 L489.19,116.14 L489.71,116.14 L490.23,116.15 L490.75,116.15 L491.26,116.16 L491.78,116.16 L492.3,116.17 L492.82,116.17 L493.34,116.18 L493.86,116.18 L494.38,116.19 L494.9,116.19 L495.42,116.19 L495.94,116.2 L496.45,116.2 L496.97,116.2 L497.49,116.21 L498.01,116.21 L498.53,116.21 L499.05,116.22 L499.57,116.22 L500.09,116.22 L500.61,116.22 L501.13,116.22 L501.64,116.23 L502.16,116.23 L502.68,116.23 L503.2,116.23 L503.72,116.23 L504.24,116.23 L504.76,116.23 L505.28,116.23 L505.8,116.23 L505.97,116.23" fill="none" stroke="#45b0e0" stroke-width="1.0" stroke-opacity="1.0" stroke-linejoin="round" stroke-linecap="round"/>
<path d="M413.41,116.18 L413.93,116.13 L414.45,116.07 L414.97,116.01 L415.49,115.93 L416.01,115.85 L416.53,115.76 L417.05,115.67 L417.57,115.58 L418.09,115.47 L418.6,115.36 L419.12,115.24 L419.64,115.11 L420.16,114.98 L420.68,114.86 L421.2,114.74 L421.72,114.64 L422.24,114.56 L422.76,114.49 L423.28,114.44 L423.79,114.4 L424.31,114.37 L424.83,114.34 L425.35,114.31 L425.87,114.28 L426.39,114.26 L426.91,114.24 L427.43,114.21 L427.95,114.19 L428.47,114.17 L428.98,114.16 L429.5,114.14 L430.02,114.12 L430.54,114.11 L431.06,114.1 L431.58,114.09 L432.1,114.08 L432.62,114.07 L433.14,114.07 L433.66,114.06 L434.17,114.06 L434.69,114.06 L435.21,114.05 L435.73,114.06 L436.25,114.06 L436.77,114.06 L437.29,114.06 L437.81,114.07 L438.33,114.07 L438.85,114.08 L439.36,114.09 L439.88,114.1 L440.4,114.11 L440.92,114.12 L441.44,114.13 L441.96,114.14 L442.48,114.15 L443,114.16 L443.52,114.18 L444.04,114.19 L444.55,114.2 L445.07,114.22 L445.59,114.23 L446.11,114.25 L446.63,114.26 L447.15,114.28 L447.67,114.3 L448.19,114.33 L448.71,114.36 L449.23,114.4 L449.74,114.44 L450.26,114.48 L450.78,114.53 L451.3,114.58 L451.82,114.64 L452.34,114.7 L452.86,114.76 L453.38,114.82 L453.9,114.89 L454.42,114.95 L454.93,115.01 L455.45,115.08 L455.97,115.14 L456.49,115.21 L457.01,115.27 L457.53,115.33 L458.05,115.39 L458.57,115.44 L459.09,115.49 L459.61,115.54 L460.12,115.58 L460.64,115.62 L461.16,115.65 L461.68,115.68 L462.2,115.7 L462.72,115.72 L463.24,115.74 L463.76,115.75 L464.28,115.76 L464.8,115.78 L465.31,115.79 L465.83,115.8 L466.35,115.81 L466.87,115.82 L467.39,115.83 L467.91,115.84 L468.43,115.85 L468.95,115.86 L469.47,115.88 L469.99,115.89 L470.5,115.9 L471.02,115.91 L471.54,115.91 L472.06,115.92 L472.58,115.93 L473.1,115.94 L473.62,115.95 L474.14,115.96 L474.66,115.97 L475.18,115.98 L475.69,115.99 L476.21,116 L476.73,116 L477.25,116.01 L477.77,116.02 L478.29,116.03 L478.81,116.04 L479.33,116.04 L479.85,116.05 L480.37,116.06 L480.88,116.06 L481.4,116.07 L481.92,116.08 L482.44,116.08 L482.96,116.09 L483.48,116.1 L484,116.1 L484.52,116.11 L485.04,116.12 L485.56,116.12 L486.07,116.13 L486.59,116.13 L487.11,116.14 L487.63,116.14 L488.15,116.15 L488.67,116.15 L489.19,116.16 L489.71,116.16 L490.23,116.17 L490.75,116.17 L491.26,116.17 L491.78,116.18 L492.3,116.18 L492.82,116.19 L493.34,116.19 L493.86,116.19 L494.38,116.2 L494.9,116.2 L495.42,116.2 L495.94,116.21 L496.45,116.21 L496.97,116.21 L497.49,116.21 L498.01,116.22 L498.53,116.22 L499.05,116.22 L499.57,116.22 L500.09,116.22 L500.61,116.22 L501.13,116.23 L501.64,116.23 L502.16,116.23 L502.68,116.23 L503.2,116.23 L503.72,116.23 L504.24,116.23 L504.76,116.23 L505.28,116.23 L505.8,116.23 L505.97,116.23" fill="none" stroke="#2b4d78" stroke-width="1.0" stroke-opacity="1.0" stroke-linejoin="round" stroke-linecap="round"/>
<text transform="translate(18.2,74.2) rotate(-90) scale(0.96,1)" font-size="9" text-anchor="middle" fill="#1e1e1e" stroke="#1e1e1e" stroke-width="0.15">Emicizumab</text>
<path d="M62.4,179.3 V277.65 H176.8" fill="none" stroke="#303030" stroke-width="1.35"/>
<path d="M59.4,273.2 H62.4" stroke="#303030" stroke-width="1.1"/>
<text x="56.1" y="276.05" font-size="8" text-anchor="end" font-weight="normal" fill="#1e1e1e" stroke="#1e1e1e" stroke-width="0.18" >0</text>
<path d="M59.4,245.25 H62.4" stroke="#303030" stroke-width="1.1"/>
<text x="56.1" y="248.1" font-size="8" text-anchor="end" font-weight="normal" fill="#1e1e1e" stroke="#1e1e1e" stroke-width="0.18" >50</text>
<path d="M59.4,217.3 H62.4" stroke="#303030" stroke-width="1.1"/>
<text x="56.1" y="220.15" font-size="8" text-anchor="end" font-weight="normal" fill="#1e1e1e" stroke="#1e1e1e" stroke-width="0.18" >100</text>
<path d="M59.4,189.35 H62.4" stroke="#303030" stroke-width="1.1"/>
<text x="56.1" y="192.2" font-size="8" text-anchor="end" font-weight="normal" fill="#1e1e1e" stroke="#1e1e1e" stroke-width="0.18" >150</text>
<path d="M67.4,277.65 V280.85" stroke="#303030" stroke-width="1.1"/>
<text x="67.4" y="290.75" font-size="8" text-anchor="middle" font-weight="normal" fill="#1e1e1e" stroke="#1e1e1e" stroke-width="0.18" >0</text>
<path d="M102,277.65 V280.85" stroke="#303030" stroke-width="1.1"/>
<text x="102" y="290.75" font-size="8" text-anchor="middle" font-weight="normal" fill="#1e1e1e" stroke="#1e1e1e" stroke-width="0.18" >20</text>
<path d="M136.6,277.65 V280.85" stroke="#303030" stroke-width="1.1"/>
<text x="136.6" y="290.75" font-size="8" text-anchor="middle" font-weight="normal" fill="#1e1e1e" stroke="#1e1e1e" stroke-width="0.18" >40</text>
<path d="M171.2,277.65 V280.85" stroke="#303030" stroke-width="1.1"/>
<text x="171.2" y="290.75" font-size="8" text-anchor="middle" font-weight="normal" fill="#1e1e1e" stroke="#1e1e1e" stroke-width="0.18" >60</text>
<text transform="translate(119.6,303.55) scale(0.74,1)" font-size="9" text-anchor="middle" fill="#222" stroke="#222" stroke-width="0.3">Time (min)</text>
<text x="119.6" y="173.8" font-size="8.9" text-anchor="middle" font-weight="normal" fill="#1e1e1e" stroke="#1e1e1e" stroke-width="0.18" >Carrier II.I</text>
<text x="23.1" y="174" font-size="10.8" text-anchor="start" font-weight="bold" fill="#000" stroke="#000" stroke-width="0.3" >D</text>
<text transform="translate(35.8,231.28) rotate(-90) scale(0.815,1)" font-size="8" text-anchor="middle" fill="#222" stroke="#222" stroke-width="0.3">Thrombin (nM)</text>
<path d="M62.4,236.14 H176.8" stroke="#505050" stroke-width="1.1" stroke-dasharray="8.3 4.2" stroke-dashoffset="4.4"/>
<path d="M69.65,272.92 L70.25,272.92 L70.86,272.92 L71.47,272.91 L72.07,272.91 L72.68,272.91 L73.28,272.9 L73.89,272.89 L74.49,272.88 L75.1,272.87 L75.7,272.86 L76.31,272.84 L76.92,272.83 L77.52,272.81 L78.13,272.79 L78.73,272.76 L79.34,272.73 L79.94,272.67 L80.55,272.53 L81.15,272.24 L81.76,271.68 L82.36,270.76 L82.97,269.43 L83.58,267.64 L84.18,265.37 L84.79,262.63 L85.39,259.58 L86,256.4 L86.6,253.25 L87.21,250.24 L87.81,247.43 L88.42,244.87 L89.03,242.67 L89.63,240.87 L90.24,239.44 L90.84,238.28 L91.45,237.3 L92.05,236.44 L92.66,235.68 L93.26,235 L93.87,234.42 L94.47,233.93 L95.08,233.56 L95.69,233.31 L96.29,233.2 L96.9,233.25 L97.5,233.47 L98.11,233.85 L98.71,234.38 L99.32,235.04 L99.92,235.77 L100.53,236.56 L101.14,237.38 L101.74,238.2 L102.35,239.02 L102.95,239.87 L103.56,240.76 L104.16,241.68 L104.77,242.65 L105.37,243.64 L105.98,244.67 L106.58,245.72 L107.19,246.78 L107.8,247.85 L108.4,248.92 L109.01,249.98 L109.61,251.03 L110.22,252.06 L110.82,253.07 L111.43,254.05 L112.03,255.02 L112.64,255.99 L113.25,256.96 L113.85,257.94 L114.46,258.91 L115.06,259.88 L115.67,260.81 L116.27,261.71 L116.88,262.56 L117.48,263.35 L118.09,264.07 L118.69,264.71 L119.3,265.29 L119.91,265.81 L120.51,266.29 L121.12,266.75 L121.72,267.18 L122.33,267.6 L122.93,268 L123.54,268.38 L124.14,268.74 L124.75,269.08 L125.36,269.39 L125.96,269.69 L126.57,269.96 L127.17,270.2 L127.78,270.42 L128.38,270.61 L128.99,270.78 L129.59,270.92 L130.2,271.05 L130.8,271.16 L131.41,271.27 L132.02,271.37 L132.62,271.47 L133.23,271.56 L133.83,271.65 L134.44,271.74 L135.04,271.82 L135.65,271.9 L136.25,271.98 L136.86,272.05 L137.47,272.12 L138.07,272.18 L138.68,272.24 L139.28,272.3 L139.89,272.35 L140.49,272.4 L141.1,272.44 L141.7,272.48 L142.31,272.52 L142.91,272.55 L143.52,272.58 L144.13,272.6 L144.73,272.62 L145.34,272.64 L145.94,272.65 L146.55,272.67 L147.15,272.68 L147.76,272.69 L148.36,272.71 L148.97,272.72 L149.58,272.73 L150.18,272.74 L150.79,272.75 L151.39,272.76 L152,272.77 L152.6,272.78 L153.21,272.79 L153.81,272.8 L154.42,272.81 L155.02,272.82 L155.63,272.83 L156.24,272.83 L156.84,272.84 L157.45,272.85 L158.05,272.86 L158.66,272.86 L159.26,272.87 L159.87,272.87 L160.47,272.88 L161.08,272.88 L161.69,272.89 L162.29,272.89 L162.9,272.9 L163.5,272.9 L164.11,272.91 L164.71,272.91 L165.32,272.91 L165.92,272.91 L166.53,272.92 L167.13,272.92 L167.74,272.92 L168.35,272.92 L168.95,272.92 L169.47,272.92" fill="none" stroke="#de8a4e" stroke-width="1.0" stroke-opacity="1.0" stroke-linejoin="round" stroke-linecap="round"/>
<path d="M69.65,272.92 L70.25,272.92 L70.86,272.92 L71.47,272.91 L72.07,272.91 L72.68,272.91 L73.28,272.9 L73.89,272.89 L74.49,272.88 L75.1,272.87 L75.7,272.86 L76.31,272.84 L76.92,272.83 L77.52,272.81 L78.13,272.79 L78.73,272.76 L79.34,272.73 L79.94,272.66 L80.55,272.52 L81.15,272.22 L81.76,271.65 L82.36,270.75 L82.97,269.51 L83.58,267.95 L84.18,266.08 L84.79,263.93 L85.39,261.53 L86,258.95 L86.6,256.26 L87.21,253.51 L87.81,250.73 L88.42,247.96 L89.03,245.28 L89.63,242.81 L90.24,240.62 L90.84,238.75 L91.45,237.17 L92.05,235.82 L92.66,234.69 L93.26,233.81 L93.87,233.24 L94.47,233.01 L95.08,233.15 L95.69,233.65 L96.29,234.43 L96.9,235.42 L97.5,236.53 L98.11,237.68 L98.71,238.85 L99.32,240.03 L99.92,241.23 L100.53,242.47 L101.14,243.74 L101.74,245.05 L102.35,246.37 L102.95,247.7 L103.56,249.03 L104.16,250.33 L104.77,251.61 L105.37,252.85 L105.98,254.05 L106.58,255.22 L107.19,256.37 L107.8,257.51 L108.4,258.63 L109.01,259.72 L109.61,260.78 L110.22,261.78 L110.82,262.7 L111.43,263.55 L112.03,264.31 L112.64,265 L113.25,265.64 L113.85,266.23 L114.46,266.79 L115.06,267.32 L115.67,267.82 L116.27,268.29 L116.88,268.73 L117.48,269.12 L118.09,269.48 L118.69,269.79 L119.3,270.05 L119.91,270.28 L120.51,270.47 L121.12,270.63 L121.72,270.78 L122.33,270.93 L122.93,271.06 L123.54,271.19 L124.14,271.31 L124.75,271.43 L125.36,271.54 L125.96,271.64 L126.57,271.74 L127.17,271.83 L127.78,271.91 L128.38,271.99 L128.99,272.06 L129.59,272.12 L130.2,272.18 L130.8,272.22 L131.41,272.27 L132.02,272.3 L132.62,272.33 L133.23,272.36 L133.83,272.38 L134.44,272.4 L135.04,272.42 L135.65,272.44 L136.25,272.46 L136.86,272.47 L137.47,272.49 L138.07,272.51 L138.68,272.52 L139.28,272.54 L139.89,272.56 L140.49,272.57 L141.1,272.59 L141.7,272.6 L142.31,272.61 L142.91,272.63 L143.52,272.64 L144.13,272.65 L144.73,272.67 L145.34,272.68 L145.94,272.69 L146.55,272.7 L147.15,272.72 L147.76,272.73 L148.36,272.74 L148.97,272.75 L149.58,272.76 L150.18,272.77 L150.79,272.78 L151.39,272.79 L152,272.8 L152.6,272.8 L153.21,272.81 L153.81,272.82 L154.42,272.83 L155.02,272.84 L155.63,272.84 L156.24,272.85 L156.84,272.86 L157.45,272.86 L158.05,272.87 L158.66,272.87 L159.26,272.88 L159.87,272.88 L160.47,272.89 L161.08,272.89 L161.69,272.9 L162.29,272.9 L162.9,272.9 L163.5,272.91 L164.11,272.91 L164.71,272.91 L165.32,272.91 L165.92,272.92 L166.53,272.92 L167.13,272.92 L167.74,272.92 L168.35,272.92 L168.95,272.92 L169.47,272.92" fill="none" stroke="#45b0e0" stroke-width="1.0" stroke-opacity="1.0" stroke-linejoin="round" stroke-linecap="round"/>
<path d="M69.65,272.92 L70.25,272.92 L70.86,272.92 L71.47,272.92 L72.07,272.91 L72.68,272.91 L73.28,272.91 L73.89,272.9 L74.49,272.89 L75.1,272.88 L75.7,272.88 L76.31,272.86 L76.92,272.85 L77.52,272.84 L78.13,272.82 L78.73,272.81 L79.34,272.79 L79.94,272.76 L80.55,272.74 L81.15,272.7 L81.76,272.61 L82.36,272.42 L82.97,272.04 L83.58,271.38 L84.18,270.45 L84.79,269.29 L85.39,268.03 L86,266.72 L86.6,265.39 L87.21,264.04 L87.81,262.66 L88.42,261.25 L89.03,259.81 L89.63,258.35 L90.24,256.85 L90.84,255.32 L91.45,253.73 L92.05,252.08 L92.66,250.36 L93.26,248.61 L93.87,246.86 L94.47,245.16 L95.08,243.57 L95.69,242.12 L96.29,240.84 L96.9,239.7 L97.5,238.69 L98.11,237.76 L98.71,236.89 L99.32,236.09 L99.92,235.37 L100.53,234.73 L101.14,234.22 L101.74,233.84 L102.35,233.62 L102.95,233.57 L103.56,233.7 L104.16,234 L104.77,234.46 L105.37,235.05 L105.98,235.75 L106.58,236.52 L107.19,237.37 L107.8,238.29 L108.4,239.31 L109.01,240.46 L109.61,241.76 L110.22,243.2 L110.82,244.75 L111.43,246.37 L112.03,248.03 L112.64,249.68 L113.25,251.28 L113.85,252.81 L114.46,254.26 L115.06,255.64 L115.67,256.99 L116.27,258.3 L116.88,259.59 L117.48,260.84 L118.09,262.04 L118.69,263.14 L119.3,264.15 L119.91,265.03 L120.51,265.79 L121.12,266.43 L121.72,266.98 L122.33,267.46 L122.93,267.9 L123.54,268.31 L124.14,268.7 L124.75,269.05 L125.36,269.38 L125.96,269.68 L126.57,269.95 L127.17,270.2 L127.78,270.42 L128.38,270.61 L128.99,270.78 L129.59,270.92 L130.2,271.05 L130.8,271.16 L131.41,271.27 L132.02,271.37 L132.62,271.47 L133.23,271.57 L133.83,271.66 L134.44,271.75 L135.04,271.83 L135.65,271.91 L136.25,271.98 L136.86,272.06 L137.47,272.12 L138.07,272.19 L138.68,272.25 L139.28,272.3 L139.89,272.35 L140.49,272.4 L141.1,272.45 L141.7,272.49 L142.31,272.52 L142.91,272.55 L143.52,272.58 L144.13,272.6 L144.73,272.62 L145.34,272.64 L145.94,272.65 L146.55,272.67 L147.15,272.68 L147.76,272.69 L148.36,272.71 L148.97,272.72 L149.58,272.73 L150.18,272.74 L150.79,272.75 L151.39,272.76 L152,272.77 L152.6,272.78 L153.21,272.79 L153.81,272.8 L154.42,272.81 L155.02,272.82 L155.63,272.83 L156.24,272.83 L156.84,272.84 L157.45,272.85 L158.05,272.86 L158.66,272.86 L159.26,272.87 L159.87,272.87 L160.47,272.88 L161.08,272.88 L161.69,272.89 L162.29,272.89 L162.9,272.9 L163.5,272.9 L164.11,272.91 L164.71,272.91 L165.32,272.91 L165.92,272.91 L166.53,272.92 L167.13,272.92 L167.74,272.92 L168.35,272.92 L168.95,272.92 L169.47,272.92" fill="none" stroke="#2b4d78" stroke-width="1.0" stroke-opacity="1.0" stroke-linejoin="round" stroke-linecap="round"/>
<path d="M230.7,179.3 V277.65 H345.1" fill="none" stroke="#303030" stroke-width="1.35"/>
<path d="M227.7,273.2 H230.7" stroke="#303030" stroke-width="1.1"/>
<text x="224.4" y="276.05" font-size="8" text-anchor="end" font-weight="normal" fill="#1e1e1e" stroke="#1e1e1e" stroke-width="0.18" >0</text>
<path d="M227.7,245.25 H230.7" stroke="#303030" stroke-width="1.1"/>
<text x="224.4" y="248.1" font-size="8" text-anchor="end" font-weight="normal" fill="#1e1e1e" stroke="#1e1e1e" stroke-width="0.18" >50</text>
<path d="M227.7,217.3 H230.7" stroke="#303030" stroke-width="1.1"/>
<text x="224.4" y="220.15" font-size="8" text-anchor="end" font-weight="normal" fill="#1e1e1e" stroke="#1e1e1e" stroke-width="0.18" >100</text>
<path d="M227.7,189.35 H230.7" stroke="#303030" stroke-width="1.1"/>
<text x="224.4" y="192.2" font-size="8" text-anchor="end" font-weight="normal" fill="#1e1e1e" stroke="#1e1e1e" stroke-width="0.18" >150</text>
<path d="M235.7,277.65 V280.85" stroke="#303030" stroke-width="1.1"/>
<text x="235.7" y="290.75" font-size="8" text-anchor="middle" font-weight="normal" fill="#1e1e1e" stroke="#1e1e1e" stroke-width="0.18" >0</text>
<path d="M270.3,277.65 V280.85" stroke="#303030" stroke-width="1.1"/>
<text x="270.3" y="290.75" font-size="8" text-anchor="middle" font-weight="normal" fill="#1e1e1e" stroke="#1e1e1e" stroke-width="0.18" >20</text>
<path d="M304.9,277.65 V280.85" stroke="#303030" stroke-width="1.1"/>
<text x="304.9" y="290.75" font-size="8" text-anchor="middle" font-weight="normal" fill="#1e1e1e" stroke="#1e1e1e" stroke-width="0.18" >40</text>
<path d="M339.5,277.65 V280.85" stroke="#303030" stroke-width="1.1"/>
<text x="339.5" y="290.75" font-size="8" text-anchor="middle" font-weight="normal" fill="#1e1e1e" stroke="#1e1e1e" stroke-width="0.18" >60</text>
<text transform="translate(287.9,303.55) scale(0.74,1)" font-size="9" text-anchor="middle" fill="#222" stroke="#222" stroke-width="0.3">Time (min)</text>
<text x="287.9" y="173.8" font-size="8.9" text-anchor="middle" font-weight="normal" fill="#1e1e1e" stroke="#1e1e1e" stroke-width="0.18" >Case III.I</text>
<text x="191.4" y="174" font-size="10.8" text-anchor="start" font-weight="bold" fill="#000" stroke="#000" stroke-width="0.3" >E</text>
<text transform="translate(204.1,231.28) rotate(-90) scale(0.815,1)" font-size="8" text-anchor="middle" fill="#222" stroke="#222" stroke-width="0.3">Thrombin (nM)</text>
<path d="M230.7,236.14 H345.1" stroke="#505050" stroke-width="1.1" stroke-dasharray="8.3 4.2" stroke-dashoffset="4.4"/>
<path d="M237.43,273.03 L238.04,273.03 L238.64,273.03 L239.25,273.03 L239.85,273.03 L240.46,273.03 L241.06,273.03 L241.67,273.02 L242.27,273.02 L242.88,273.02 L243.48,273.01 L244.09,273.01 L244.7,273 L245.3,272.99 L245.91,272.99 L246.51,272.98 L247.12,272.97 L247.72,272.96 L248.33,272.95 L248.93,272.92 L249.54,272.81 L250.15,272.42 L250.75,271.62 L251.36,270.46 L251.96,268.99 L252.57,267 L253.17,264.26 L253.78,260.94 L254.38,257.44 L254.99,254.21 L255.59,251.5 L256.2,249.21 L256.81,247.18 L257.41,245.33 L258.02,243.59 L258.62,241.93 L259.23,240.35 L259.83,238.93 L260.44,237.77 L261.04,236.87 L261.65,236.18 L262.26,235.73 L262.86,235.61 L263.47,235.82 L264.07,236.26 L264.68,236.81 L265.28,237.47 L265.89,238.25 L266.49,239.17 L267.1,240.18 L267.71,241.25 L268.31,242.37 L268.92,243.57 L269.52,244.87 L270.13,246.26 L270.73,247.67 L271.34,249.07 L271.94,250.4 L272.55,251.65 L273.15,252.84 L273.76,253.99 L274.37,255.13 L274.97,256.25 L275.58,257.33 L276.18,258.37 L276.79,259.36 L277.39,260.29 L278,261.16 L278.6,261.95 L279.21,262.67 L279.82,263.32 L280.42,263.93 L281.03,264.5 L281.63,265.04 L282.24,265.58 L282.84,266.11 L283.45,266.66 L284.05,267.21 L284.66,267.76 L285.26,268.26 L285.87,268.71 L286.48,269.1 L287.08,269.48 L287.69,269.83 L288.29,270.16 L288.9,270.46 L289.5,270.72 L290.11,270.95 L290.71,271.14 L291.32,271.3 L291.93,271.43 L292.53,271.56 L293.14,271.68 L293.74,271.79 L294.35,271.9 L294.95,272 L295.56,272.1 L296.16,272.19 L296.77,272.27 L297.37,272.35 L297.98,272.41 L298.59,272.47 L299.19,272.52 L299.8,272.57 L300.4,272.6 L301.01,272.63 L301.61,272.64 L302.22,272.66 L302.82,272.67 L303.43,272.69 L304.04,272.7 L304.64,272.71 L305.25,272.73 L305.85,272.74 L306.46,272.75 L307.06,272.76 L307.67,272.77 L308.27,272.78 L308.88,272.79 L309.48,272.81 L310.09,272.82 L310.7,272.83 L311.3,272.84 L311.91,272.85 L312.51,272.85 L313.12,272.86 L313.72,272.87 L314.33,272.88 L314.93,272.89 L315.54,272.9 L316.15,272.9 L316.75,272.91 L317.36,272.92 L317.96,272.93 L318.57,272.93 L319.17,272.94 L319.78,272.95 L320.38,272.95 L320.99,272.96 L321.59,272.96 L322.2,272.97 L322.81,272.97 L323.41,272.98 L324.02,272.98 L324.62,272.99 L325.23,272.99 L325.83,273 L326.44,273 L327.04,273 L327.65,273.01 L328.26,273.01 L328.86,273.01 L329.47,273.01 L330.07,273.02 L330.68,273.02 L331.28,273.02 L331.89,273.02 L332.49,273.03 L333.1,273.03 L333.7,273.03 L334.31,273.03 L334.92,273.03 L335.52,273.03 L336.13,273.03 L336.73,273.03 L337.34,273.03 L337.77,273.03" fill="none" stroke="#b8b8b8" stroke-width="1.0" stroke-opacity="1.0" stroke-linejoin="round" stroke-linecap="round"/>
<path d="M248.85,273.03 L249.37,273.03 L249.89,273.03 L250.4,273.03 L250.92,273.03 L251.44,273.03 L251.96,273.03 L252.48,273.03 L253,273.03 L253.52,273.03 L254.04,273.03 L254.56,273.03 L255.08,273.03 L255.59,273.03 L256.11,273.02 L256.63,273.02 L257.15,273.02 L257.67,273.02 L258.19,273.02 L258.71,273.02 L259.23,273.02 L259.75,273.01 L260.27,273.01 L260.78,273.01 L261.3,273.01 L261.82,273 L262.34,273 L262.86,273 L263.38,273 L263.9,272.99 L264.42,272.99 L264.94,272.99 L265.46,272.99 L265.97,272.98 L266.49,272.98 L267.01,272.98 L267.53,272.97 L268.05,272.97 L268.57,272.97 L269.09,272.96 L269.61,272.96 L270.13,272.95 L270.65,272.95 L271.16,272.94 L271.68,272.94 L272.2,272.93 L272.72,272.93 L273.24,272.92 L273.76,272.91 L274.28,272.89 L274.8,272.86 L275.32,272.83 L275.84,272.78 L276.35,272.73 L276.87,272.67 L277.39,272.6 L277.91,272.52 L278.43,272.44 L278.95,272.36 L279.47,272.27 L279.99,272.18 L280.51,272.09 L281.03,272 L281.54,271.92 L282.06,271.83 L282.58,271.75 L283.1,271.67 L283.62,271.6 L284.14,271.53 L284.66,271.46 L285.18,271.39 L285.7,271.32 L286.22,271.25 L286.73,271.17 L287.25,271.1 L287.77,271.03 L288.29,270.95 L288.81,270.88 L289.33,270.81 L289.85,270.75 L290.37,270.69 L290.89,270.63 L291.41,270.58 L291.92,270.54 L292.44,270.5 L292.96,270.47 L293.48,270.44 L294,270.43 L294.52,270.42 L295.04,270.42 L295.56,270.43 L296.08,270.44 L296.6,270.46 L297.11,270.49 L297.63,270.52 L298.15,270.55 L298.67,270.59 L299.19,270.63 L299.71,270.68 L300.23,270.72 L300.75,270.77 L301.27,270.82 L301.79,270.88 L302.3,270.93 L302.82,270.99 L303.34,271.04 L303.86,271.1 L304.38,271.15 L304.9,271.21 L305.42,271.26 L305.94,271.31 L306.46,271.36 L306.98,271.41 L307.49,271.45 L308.01,271.49 L308.53,271.53 L309.05,271.57 L309.57,271.61 L310.09,271.65 L310.61,271.69 L311.13,271.72 L311.65,271.76 L312.17,271.8 L312.68,271.84 L313.2,271.88 L313.72,271.91 L314.24,271.95 L314.76,271.99 L315.28,272.03 L315.8,272.06 L316.32,272.1 L316.84,272.13 L317.36,272.17 L317.87,272.2 L318.39,272.24 L318.91,272.27 L319.43,272.3 L319.95,272.34 L320.47,272.37 L320.99,272.4 L321.51,272.43 L322.03,272.46 L322.55,272.49 L323.06,272.52 L323.58,272.54 L324.1,272.57 L324.62,272.59 L325.14,272.62 L325.66,272.64 L326.18,272.66 L326.7,272.68 L327.22,272.7 L327.74,272.73 L328.25,272.75 L328.77,272.77 L329.29,272.79 L329.81,272.8 L330.33,272.82 L330.85,272.84 L331.37,272.86 L331.89,272.88 L332.41,272.89 L332.93,272.91 L333.44,272.93 L333.96,272.94 L334.48,272.95 L335,272.97 L335.52,272.98 L336.04,272.99 L336.56,273 L337.08,273.01 L337.6,273.02 L337.77,273.02" fill="none" stroke="#de8a4e" stroke-width="1.0" stroke-opacity="1.0" stroke-linejoin="round" stroke-linecap="round"/>
<path d="M248.85,273.03 L249.37,273.03 L249.89,273.03 L250.4,273.03 L250.92,273.03 L251.44,273.03 L251.96,273.03 L252.48,273.03 L253,273.03 L253.52,273.03 L254.04,273.03 L254.56,273.03 L255.08,273.03 L255.59,273.03 L256.11,273.02 L256.63,273.02 L257.15,273.02 L257.67,273.02 L258.19,273.02 L258.71,273.02 L259.23,273.02 L259.75,273.01 L260.27,273.01 L260.78,273.01 L261.3,273.01 L261.82,273.01 L262.34,273 L262.86,273 L263.38,273 L263.9,273 L264.42,272.99 L264.94,272.99 L265.46,272.99 L265.97,272.98 L266.49,272.98 L267.01,272.98 L267.53,272.97 L268.05,272.97 L268.57,272.97 L269.09,272.96 L269.61,272.96 L270.13,272.95 L270.65,272.95 L271.16,272.94 L271.68,272.94 L272.2,272.93 L272.72,272.93 L273.24,272.92 L273.76,272.9 L274.28,272.87 L274.8,272.82 L275.32,272.76 L275.84,272.67 L276.35,272.58 L276.87,272.46 L277.39,272.33 L277.91,272.19 L278.43,272.05 L278.95,271.89 L279.47,271.73 L279.99,271.57 L280.51,271.41 L281.03,271.25 L281.54,271.09 L282.06,270.94 L282.58,270.79 L283.1,270.66 L283.62,270.53 L284.14,270.42 L284.66,270.3 L285.18,270.19 L285.7,270.08 L286.22,269.97 L286.73,269.86 L287.25,269.75 L287.77,269.64 L288.29,269.53 L288.81,269.43 L289.33,269.32 L289.85,269.23 L290.37,269.14 L290.89,269.06 L291.41,268.98 L291.92,268.92 L292.44,268.86 L292.96,268.82 L293.48,268.78 L294,268.76 L294.52,268.75 L295.04,268.75 L295.56,268.76 L296.08,268.78 L296.6,268.81 L297.11,268.85 L297.63,268.89 L298.15,268.94 L298.67,269 L299.19,269.06 L299.71,269.12 L300.23,269.19 L300.75,269.27 L301.27,269.34 L301.79,269.42 L302.3,269.5 L302.82,269.58 L303.34,269.67 L303.86,269.75 L304.38,269.83 L304.9,269.91 L305.42,269.99 L305.94,270.07 L306.46,270.15 L306.98,270.22 L307.49,270.29 L308.01,270.36 L308.53,270.42 L309.05,270.49 L309.57,270.55 L310.09,270.61 L310.61,270.68 L311.13,270.74 L311.65,270.81 L312.17,270.87 L312.68,270.94 L313.2,271 L313.72,271.07 L314.24,271.13 L314.76,271.2 L315.28,271.26 L315.8,271.33 L316.32,271.39 L316.84,271.46 L317.36,271.52 L317.87,271.58 L318.39,271.64 L318.91,271.7 L319.43,271.76 L319.95,271.82 L320.47,271.88 L320.99,271.93 L321.51,271.99 L322.03,272.04 L322.55,272.09 L323.06,272.14 L323.58,272.19 L324.1,272.23 L324.62,272.28 L325.14,272.32 L325.66,272.36 L326.18,272.4 L326.7,272.43 L327.22,272.47 L327.74,272.51 L328.25,272.54 L328.77,272.58 L329.29,272.61 L329.81,272.64 L330.33,272.68 L330.85,272.71 L331.37,272.74 L331.89,272.77 L332.41,272.8 L332.93,272.82 L333.44,272.85 L333.96,272.88 L334.48,272.9 L335,272.92 L335.52,272.95 L336.04,272.97 L336.56,272.99 L337.08,273 L337.6,273.01 L337.77,273.02" fill="none" stroke="#45b0e0" stroke-width="1.0" stroke-opacity="1.0" stroke-linejoin="round" stroke-linecap="round"/>
<path d="M248.85,273.03 L249.37,273.03 L249.89,273.03 L250.4,273.03 L250.92,273.03 L251.44,273.03 L251.96,273.03 L252.48,273.03 L253,273.03 L253.52,273.03 L254.04,273.03 L254.56,273.03 L255.08,273.03 L255.59,273.03 L256.11,273.02 L256.63,273.02 L257.15,273.02 L257.67,273.02 L258.19,273.02 L258.71,273.02 L259.23,273.02 L259.75,273.01 L260.27,273.01 L260.78,273.01 L261.3,273.01 L261.82,273.01 L262.34,273 L262.86,273 L263.38,273 L263.9,273 L264.42,272.99 L264.94,272.99 L265.46,272.99 L265.97,272.98 L266.49,272.98 L267.01,272.98 L267.53,272.97 L268.05,272.97 L268.57,272.97 L269.09,272.96 L269.61,272.96 L270.13,272.95 L270.65,272.95 L271.16,272.94 L271.68,272.94 L272.2,272.93 L272.72,272.93 L273.24,272.91 L273.76,272.89 L274.28,272.86 L274.8,272.81 L275.32,272.74 L275.84,272.65 L276.35,272.54 L276.87,272.42 L277.39,272.28 L277.91,272.12 L278.43,271.96 L278.95,271.79 L279.47,271.61 L279.99,271.43 L280.51,271.25 L281.03,271.07 L281.54,270.9 L282.06,270.73 L282.58,270.57 L283.1,270.41 L283.62,270.27 L284.14,270.14 L284.66,270.01 L285.18,269.88 L285.7,269.75 L286.22,269.62 L286.73,269.49 L287.25,269.36 L287.77,269.22 L288.29,269.09 L288.81,268.97 L289.33,268.84 L289.85,268.72 L290.37,268.61 L290.89,268.51 L291.41,268.41 L291.92,268.32 L292.44,268.24 L292.96,268.17 L293.48,268.12 L294,268.07 L294.52,268.05 L295.04,268.03 L295.56,268.04 L296.08,268.05 L296.6,268.08 L297.11,268.13 L297.63,268.19 L298.15,268.26 L298.67,268.34 L299.19,268.43 L299.71,268.52 L300.23,268.63 L300.75,268.74 L301.27,268.86 L301.79,268.98 L302.3,269.1 L302.82,269.22 L303.34,269.35 L303.86,269.48 L304.38,269.6 L304.9,269.72 L305.42,269.84 L305.94,269.95 L306.46,270.06 L306.98,270.16 L307.49,270.25 L308.01,270.34 L308.53,270.42 L309.05,270.5 L309.57,270.57 L310.09,270.64 L310.61,270.72 L311.13,270.79 L311.65,270.86 L312.17,270.93 L312.68,270.99 L313.2,271.06 L313.72,271.13 L314.24,271.19 L314.76,271.26 L315.28,271.32 L315.8,271.39 L316.32,271.45 L316.84,271.51 L317.36,271.57 L317.87,271.63 L318.39,271.69 L318.91,271.74 L319.43,271.8 L319.95,271.85 L320.47,271.9 L320.99,271.96 L321.51,272.01 L322.03,272.06 L322.55,272.1 L323.06,272.15 L323.58,272.19 L324.1,272.24 L324.62,272.28 L325.14,272.32 L325.66,272.36 L326.18,272.4 L326.7,272.43 L327.22,272.47 L327.74,272.51 L328.25,272.54 L328.77,272.58 L329.29,272.61 L329.81,272.64 L330.33,272.68 L330.85,272.71 L331.37,272.74 L331.89,272.77 L332.41,272.8 L332.93,272.82 L333.44,272.85 L333.96,272.88 L334.48,272.9 L335,272.92 L335.52,272.95 L336.04,272.97 L336.56,272.99 L337.08,273 L337.6,273.01 L337.77,273.02" fill="none" stroke="#2b4d78" stroke-width="1.0" stroke-opacity="1.0" stroke-linejoin="round" stroke-linecap="round"/>
<path d="M398.9,179.3 V277.65 H513.3" fill="none" stroke="#303030" stroke-width="1.35"/>
<path d="M395.9,273.2 H398.9" stroke="#303030" stroke-width="1.1"/>
<text x="392.6" y="276.05" font-size="8" text-anchor="end" font-weight="normal" fill="#1e1e1e" stroke="#1e1e1e" stroke-width="0.18" >0</text>
<path d="M395.9,245.25 H398.9" stroke="#303030" stroke-width="1.1"/>
<text x="392.6" y="248.1" font-size="8" text-anchor="end" font-weight="normal" fill="#1e1e1e" stroke="#1e1e1e" stroke-width="0.18" >50</text>
<path d="M395.9,217.3 H398.9" stroke="#303030" stroke-width="1.1"/>
<text x="392.6" y="220.15" font-size="8" text-anchor="end" font-weight="normal" fill="#1e1e1e" stroke="#1e1e1e" stroke-width="0.18" >100</text>
<path d="M395.9,189.35 H398.9" stroke="#303030" stroke-width="1.1"/>
<text x="392.6" y="192.2" font-size="8" text-anchor="end" font-weight="normal" fill="#1e1e1e" stroke="#1e1e1e" stroke-width="0.18" >150</text>
<path d="M403.9,277.65 V280.85" stroke="#303030" stroke-width="1.1"/>
<text x="403.9" y="290.75" font-size="8" text-anchor="middle" font-weight="normal" fill="#1e1e1e" stroke="#1e1e1e" stroke-width="0.18" >0</text>
<path d="M438.5,277.65 V280.85" stroke="#303030" stroke-width="1.1"/>
<text x="438.5" y="290.75" font-size="8" text-anchor="middle" font-weight="normal" fill="#1e1e1e" stroke="#1e1e1e" stroke-width="0.18" >20</text>
<path d="M473.1,277.65 V280.85" stroke="#303030" stroke-width="1.1"/>
<text x="473.1" y="290.75" font-size="8" text-anchor="middle" font-weight="normal" fill="#1e1e1e" stroke="#1e1e1e" stroke-width="0.18" >40</text>
<path d="M507.7,277.65 V280.85" stroke="#303030" stroke-width="1.1"/>
<text x="507.7" y="290.75" font-size="8" text-anchor="middle" font-weight="normal" fill="#1e1e1e" stroke="#1e1e1e" stroke-width="0.18" >60</text>
<text transform="translate(456.1,303.55) scale(0.74,1)" font-size="9" text-anchor="middle" fill="#222" stroke="#222" stroke-width="0.3">Time (min)</text>
<text x="456.1" y="173.8" font-size="8.9" text-anchor="middle" font-weight="normal" fill="#1e1e1e" stroke="#1e1e1e" stroke-width="0.18" >Case III.II</text>
<text x="359.6" y="174" font-size="10.8" text-anchor="start" font-weight="bold" fill="#000" stroke="#000" stroke-width="0.3" >F</text>
<text transform="translate(372.3,231.28) rotate(-90) scale(0.815,1)" font-size="8" text-anchor="middle" fill="#222" stroke="#222" stroke-width="0.3">Thrombin (nM)</text>
<path d="M398.9,236.14 H513.3" stroke="#505050" stroke-width="1.1" stroke-dasharray="8.3 4.2" stroke-dashoffset="4.4"/>
<path d="M405.63,273.03 L406.24,273.03 L406.84,273.03 L407.45,273.03 L408.05,273.03 L408.66,273.03 L409.26,273.03 L409.87,273.02 L410.47,273.02 L411.08,273.02 L411.69,273.01 L412.29,273.01 L412.9,273 L413.5,272.99 L414.11,272.99 L414.71,272.98 L415.32,272.97 L415.92,272.96 L416.53,272.95 L417.13,272.92 L417.74,272.81 L418.35,272.42 L418.95,271.62 L419.56,270.46 L420.16,268.99 L420.77,267 L421.37,264.26 L421.98,260.94 L422.58,257.44 L423.19,254.21 L423.8,251.5 L424.4,249.21 L425.01,247.18 L425.61,245.33 L426.22,243.59 L426.82,241.93 L427.43,240.35 L428.03,238.93 L428.64,237.77 L429.24,236.87 L429.85,236.18 L430.46,235.73 L431.06,235.61 L431.67,235.82 L432.27,236.26 L432.88,236.81 L433.48,237.47 L434.09,238.25 L434.69,239.17 L435.3,240.18 L435.9,241.25 L436.51,242.37 L437.12,243.57 L437.72,244.87 L438.33,246.26 L438.93,247.67 L439.54,249.07 L440.14,250.4 L440.75,251.65 L441.35,252.84 L441.96,253.99 L442.57,255.13 L443.17,256.25 L443.78,257.33 L444.38,258.37 L444.99,259.36 L445.59,260.29 L446.2,261.16 L446.8,261.95 L447.41,262.67 L448.01,263.32 L448.62,263.93 L449.23,264.5 L449.83,265.04 L450.44,265.58 L451.04,266.11 L451.65,266.66 L452.25,267.21 L452.86,267.76 L453.46,268.26 L454.07,268.71 L454.68,269.1 L455.28,269.48 L455.89,269.83 L456.49,270.16 L457.1,270.46 L457.7,270.72 L458.31,270.95 L458.91,271.14 L459.52,271.3 L460.12,271.43 L460.73,271.56 L461.34,271.68 L461.94,271.79 L462.55,271.9 L463.15,272 L463.76,272.1 L464.36,272.19 L464.97,272.27 L465.57,272.35 L466.18,272.41 L466.79,272.47 L467.39,272.52 L468,272.57 L468.6,272.6 L469.21,272.63 L469.81,272.64 L470.42,272.66 L471.02,272.67 L471.63,272.69 L472.24,272.7 L472.84,272.71 L473.45,272.73 L474.05,272.74 L474.66,272.75 L475.26,272.76 L475.87,272.77 L476.47,272.78 L477.08,272.79 L477.68,272.81 L478.29,272.82 L478.9,272.83 L479.5,272.84 L480.11,272.85 L480.71,272.85 L481.32,272.86 L481.92,272.87 L482.53,272.88 L483.13,272.89 L483.74,272.9 L484.35,272.9 L484.95,272.91 L485.56,272.92 L486.16,272.93 L486.77,272.93 L487.37,272.94 L487.98,272.95 L488.58,272.95 L489.19,272.96 L489.79,272.96 L490.4,272.97 L491.01,272.97 L491.61,272.98 L492.22,272.98 L492.82,272.99 L493.43,272.99 L494.03,273 L494.64,273 L495.24,273 L495.85,273.01 L496.46,273.01 L497.06,273.01 L497.67,273.01 L498.27,273.02 L498.88,273.02 L499.48,273.02 L500.09,273.02 L500.69,273.03 L501.3,273.03 L501.9,273.03 L502.51,273.03 L503.12,273.03 L503.72,273.03 L504.33,273.03 L504.93,273.03 L505.54,273.03 L505.97,273.03" fill="none" stroke="#b8b8b8" stroke-width="1.0" stroke-opacity="1.0" stroke-linejoin="round" stroke-linecap="round"/>
<path d="M417.05,273.03 L417.57,273.03 L418.09,273.03 L418.6,273.03 L419.12,273.03 L419.64,273.03 L420.16,273.03 L420.68,273.03 L421.2,273.03 L421.72,273.03 L422.24,273.03 L422.76,273.03 L423.28,273.03 L423.79,273.03 L424.31,273.03 L424.83,273.03 L425.35,273.03 L425.87,273.03 L426.39,273.03 L426.91,273.03 L427.43,273.03 L427.95,273.02 L428.47,273.02 L428.98,273.02 L429.5,273.02 L430.02,273.02 L430.54,273.02 L431.06,273.02 L431.58,273.02 L432.1,273.02 L432.62,273.01 L433.14,273.01 L433.66,273.01 L434.17,273.01 L434.69,273.01 L435.21,273.01 L435.73,273.01 L436.25,273 L436.77,273 L437.29,273 L437.81,273 L438.33,273 L438.85,272.99 L439.36,272.99 L439.88,272.99 L440.4,272.99 L440.92,272.98 L441.44,272.98 L441.96,272.98 L442.48,272.98 L443,272.97 L443.52,272.97 L444.04,272.97 L444.55,272.96 L445.07,272.96 L445.59,272.96 L446.11,272.95 L446.63,272.95 L447.15,272.95 L447.67,272.94 L448.19,272.94 L448.71,272.93 L449.23,272.93 L449.74,272.92 L450.26,272.9 L450.78,272.87 L451.3,272.81 L451.82,272.73 L452.34,272.63 L452.86,272.49 L453.38,272.34 L453.9,272.17 L454.42,271.99 L454.93,271.81 L455.45,271.63 L455.97,271.45 L456.49,271.28 L457.01,271.13 L457.53,270.98 L458.05,270.85 L458.57,270.72 L459.09,270.59 L459.61,270.46 L460.12,270.34 L460.64,270.21 L461.16,270.09 L461.68,269.98 L462.2,269.87 L462.72,269.77 L463.24,269.68 L463.76,269.6 L464.28,269.53 L464.8,269.48 L465.31,269.45 L465.83,269.43 L466.35,269.42 L466.87,269.43 L467.39,269.45 L467.91,269.47 L468.43,269.5 L468.95,269.54 L469.47,269.58 L469.99,269.63 L470.5,269.68 L471.02,269.74 L471.54,269.8 L472.06,269.86 L472.58,269.92 L473.1,269.99 L473.62,270.05 L474.14,270.12 L474.66,270.18 L475.18,270.24 L475.69,270.3 L476.21,270.36 L476.73,270.42 L477.25,270.48 L477.77,270.54 L478.29,270.61 L478.81,270.67 L479.33,270.73 L479.85,270.8 L480.37,270.87 L480.88,270.94 L481.4,271.01 L481.92,271.08 L482.44,271.15 L482.96,271.22 L483.48,271.28 L484,271.35 L484.52,271.42 L485.04,271.49 L485.56,271.56 L486.07,271.62 L486.59,271.68 L487.11,271.75 L487.63,271.81 L488.15,271.86 L488.67,271.92 L489.19,271.97 L489.71,272.02 L490.23,272.06 L490.75,272.11 L491.26,272.15 L491.78,272.19 L492.3,272.23 L492.82,272.27 L493.34,272.31 L493.86,272.35 L494.38,272.39 L494.9,272.43 L495.42,272.47 L495.94,272.51 L496.45,272.54 L496.97,272.58 L497.49,272.61 L498.01,272.65 L498.53,272.68 L499.05,272.71 L499.57,272.74 L500.09,272.77 L500.61,272.8 L501.13,272.83 L501.64,272.86 L502.16,272.88 L502.68,272.91 L503.2,272.93 L503.72,272.95 L504.24,272.97 L504.76,272.99 L505.28,273 L505.8,273.02 L505.97,273.02" fill="none" stroke="#de8a4e" stroke-width="1.0" stroke-opacity="1.0" stroke-linejoin="round" stroke-linecap="round"/>
<path d="M417.05,273.03 L417.57,273.03 L418.09,273.03 L418.6,273.03 L419.12,273.03 L419.64,273.03 L420.16,273.03 L420.68,273.03 L421.2,273.03 L421.72,273.03 L422.24,273.03 L422.76,273.03 L423.28,273.03 L423.79,273.03 L424.31,273.03 L424.83,273.03 L425.35,273.03 L425.87,273.03 L426.39,273.03 L426.91,273.03 L427.43,273.03 L427.95,273.02 L428.47,273.02 L428.98,273.02 L429.5,273.02 L430.02,273.02 L430.54,273.02 L431.06,273.02 L431.58,273.02 L432.1,273.02 L432.62,273.02 L433.14,273.02 L433.66,273.01 L434.17,273.01 L434.69,273.01 L435.21,273.01 L435.73,273.01 L436.25,273.01 L436.77,273.01 L437.29,273 L437.81,273 L438.33,273 L438.85,273 L439.36,273 L439.88,273 L440.4,272.99 L440.92,272.99 L441.44,272.99 L441.96,272.99 L442.48,272.98 L443,272.98 L443.52,272.98 L444.04,272.98 L444.55,272.98 L445.07,272.97 L445.59,272.97 L446.11,272.97 L446.63,272.97 L447.15,272.96 L447.67,272.96 L448.19,272.96 L448.71,272.95 L449.23,272.95 L449.74,272.95 L450.26,272.95 L450.78,272.94 L451.3,272.94 L451.82,272.94 L452.34,272.93 L452.86,272.93 L453.38,272.92 L453.9,272.91 L454.42,272.9 L454.93,272.87 L455.45,272.84 L455.97,272.8 L456.49,272.75 L457.01,272.69 L457.53,272.62 L458.05,272.55 L458.57,272.47 L459.09,272.38 L459.61,272.29 L460.12,272.2 L460.64,272.1 L461.16,272.01 L461.68,271.91 L462.2,271.82 L462.72,271.73 L463.24,271.64 L463.76,271.56 L464.28,271.48 L464.8,271.41 L465.31,271.35 L465.83,271.29 L466.35,271.24 L466.87,271.19 L467.39,271.14 L467.91,271.1 L468.43,271.05 L468.95,271.01 L469.47,270.96 L469.99,270.92 L470.5,270.88 L471.02,270.84 L471.54,270.79 L472.06,270.76 L472.58,270.72 L473.1,270.68 L473.62,270.65 L474.14,270.61 L474.66,270.58 L475.18,270.55 L475.69,270.53 L476.21,270.5 L476.73,270.48 L477.25,270.46 L477.77,270.44 L478.29,270.43 L478.81,270.42 L479.33,270.42 L479.85,270.42 L480.37,270.42 L480.88,270.43 L481.4,270.45 L481.92,270.48 L482.44,270.52 L482.96,270.56 L483.48,270.61 L484,270.66 L484.52,270.72 L485.04,270.78 L485.56,270.85 L486.07,270.91 L486.59,270.99 L487.11,271.06 L487.63,271.13 L488.15,271.21 L488.67,271.28 L489.19,271.36 L489.71,271.43 L490.23,271.5 L490.75,271.58 L491.26,271.66 L491.78,271.75 L492.3,271.84 L492.82,271.94 L493.34,272.03 L493.86,272.13 L494.38,272.22 L494.9,272.31 L495.42,272.39 L495.94,272.47 L496.45,272.54 L496.97,272.59 L497.49,272.64 L498.01,272.68 L498.53,272.72 L499.05,272.76 L499.57,272.79 L500.09,272.82 L500.61,272.86 L501.13,272.88 L501.64,272.91 L502.16,272.93 L502.68,272.96 L503.2,272.98 L503.72,272.99 L504.24,273.01 L504.76,273.02 L505.28,273.02 L505.8,273.03 L505.97,273.03" fill="none" stroke="#45b0e0" stroke-width="1.0" stroke-opacity="1.0" stroke-linejoin="round" stroke-linecap="round"/>
<path d="M417.05,273.03 L417.57,273.03 L418.09,273.03 L418.6,273.03 L419.12,273.03 L419.64,273.03 L420.16,273.03 L420.68,273.03 L421.2,273.03 L421.72,273.03 L422.24,273.03 L422.76,273.03 L423.28,273.03 L423.79,273.03 L424.31,273.03 L424.83,273.03 L425.35,273.03 L425.87,273.03 L426.39,273.03 L426.91,273.03 L427.43,273.03 L427.95,273.02 L428.47,273.02 L428.98,273.02 L429.5,273.02 L430.02,273.02 L430.54,273.02 L431.06,273.02 L431.58,273.02 L432.1,273.02 L432.62,273.02 L433.14,273.02 L433.66,273.01 L434.17,273.01 L434.69,273.01 L435.21,273.01 L435.73,273.01 L436.25,273.01 L436.77,273.01 L437.29,273 L437.81,273 L438.33,273 L438.85,273 L439.36,273 L439.88,273 L440.4,272.99 L440.92,272.99 L441.44,272.99 L441.96,272.99 L442.48,272.98 L443,272.98 L443.52,272.98 L444.04,272.98 L444.55,272.98 L445.07,272.97 L445.59,272.97 L446.11,272.97 L446.63,272.97 L447.15,272.96 L447.67,272.96 L448.19,272.96 L448.71,272.95 L449.23,272.95 L449.74,272.95 L450.26,272.95 L450.78,272.94 L451.3,272.94 L451.82,272.94 L452.34,272.93 L452.86,272.93 L453.38,272.92 L453.9,272.91 L454.42,272.9 L454.93,272.88 L455.45,272.85 L455.97,272.81 L456.49,272.76 L457.01,272.7 L457.53,272.63 L458.05,272.56 L458.57,272.48 L459.09,272.4 L459.61,272.31 L460.12,272.22 L460.64,272.13 L461.16,272.03 L461.68,271.94 L462.2,271.85 L462.72,271.76 L463.24,271.67 L463.76,271.58 L464.28,271.5 L464.8,271.43 L465.31,271.36 L465.83,271.29 L466.35,271.23 L466.87,271.17 L467.39,271.12 L467.91,271.06 L468.43,271.01 L468.95,270.95 L469.47,270.9 L469.99,270.84 L470.5,270.78 L471.02,270.73 L471.54,270.68 L472.06,270.63 L472.58,270.57 L473.1,270.52 L473.62,270.48 L474.14,270.43 L474.66,270.39 L475.18,270.35 L475.69,270.31 L476.21,270.28 L476.73,270.24 L477.25,270.22 L477.77,270.19 L478.29,270.17 L478.81,270.16 L479.33,270.15 L479.85,270.14 L480.37,270.14 L480.88,270.15 L481.4,270.18 L481.92,270.21 L482.44,270.25 L482.96,270.3 L483.48,270.36 L484,270.43 L484.52,270.51 L485.04,270.59 L485.56,270.67 L486.07,270.76 L486.59,270.86 L487.11,270.95 L487.63,271.04 L488.15,271.14 L488.67,271.23 L489.19,271.32 L489.71,271.41 L490.23,271.5 L490.75,271.58 L491.26,271.67 L491.78,271.76 L492.3,271.86 L492.82,271.95 L493.34,272.05 L493.86,272.14 L494.38,272.24 L494.9,272.32 L495.42,272.4 L495.94,272.47 L496.45,272.54 L496.97,272.59 L497.49,272.64 L498.01,272.68 L498.53,272.72 L499.05,272.76 L499.57,272.79 L500.09,272.82 L500.61,272.86 L501.13,272.88 L501.64,272.91 L502.16,272.93 L502.68,272.96 L503.2,272.98 L503.72,272.99 L504.24,273.01 L504.76,273.02 L505.28,273.02 L505.8,273.03 L505.97,273.03" fill="none" stroke="#2b4d78" stroke-width="1.0" stroke-opacity="1.0" stroke-linejoin="round" stroke-linecap="round"/>
<text transform="translate(18.2,231) rotate(-90) scale(0.96,1)" font-size="9" text-anchor="middle" fill="#1e1e1e" stroke="#1e1e1e" stroke-width="0.15">Emicizumab</text>
<path d="M62.4,336 V434.2 H176.8" fill="none" stroke="#303030" stroke-width="1.35"/>
<path d="M59.4,429.8 H62.4" stroke="#303030" stroke-width="1.1"/>
<text x="56.1" y="432.65" font-size="8" text-anchor="end" font-weight="normal" fill="#1e1e1e" stroke="#1e1e1e" stroke-width="0.18" >0</text>
<path d="M59.4,407.4 H62.4" stroke="#303030" stroke-width="1.1"/>
<text x="56.1" y="410.25" font-size="8" text-anchor="end" font-weight="normal" fill="#1e1e1e" stroke="#1e1e1e" stroke-width="0.18" >200</text>
<path d="M59.4,385 H62.4" stroke="#303030" stroke-width="1.1"/>
<text x="56.1" y="387.85" font-size="8" text-anchor="end" font-weight="normal" fill="#1e1e1e" stroke="#1e1e1e" stroke-width="0.18" >400</text>
<path d="M59.4,362.6 H62.4" stroke="#303030" stroke-width="1.1"/>
<text x="56.1" y="365.45" font-size="8" text-anchor="end" font-weight="normal" fill="#1e1e1e" stroke="#1e1e1e" stroke-width="0.18" >600</text>
<path d="M59.4,340.2 H62.4" stroke="#303030" stroke-width="1.1"/>
<text x="56.1" y="343.05" font-size="8" text-anchor="end" font-weight="normal" fill="#1e1e1e" stroke="#1e1e1e" stroke-width="0.18" >800</text>
<path d="M67.2,434.2 V437.4" stroke="#303030" stroke-width="1.1"/>
<text x="67.2" y="447.3" font-size="8" text-anchor="middle" font-weight="normal" fill="#1e1e1e" stroke="#1e1e1e" stroke-width="0.18" >0</text>
<path d="M93.2,434.2 V437.4" stroke="#303030" stroke-width="1.1"/>
<text x="93.2" y="447.3" font-size="8" text-anchor="middle" font-weight="normal" fill="#1e1e1e" stroke="#1e1e1e" stroke-width="0.18" >10</text>
<path d="M119.2,434.2 V437.4" stroke="#303030" stroke-width="1.1"/>
<text x="119.2" y="447.3" font-size="8" text-anchor="middle" font-weight="normal" fill="#1e1e1e" stroke="#1e1e1e" stroke-width="0.18" >20</text>
<path d="M145.2,434.2 V437.4" stroke="#303030" stroke-width="1.1"/>
<text x="145.2" y="447.3" font-size="8" text-anchor="middle" font-weight="normal" fill="#1e1e1e" stroke="#1e1e1e" stroke-width="0.18" >30</text>
<path d="M171.2,434.2 V437.4" stroke="#303030" stroke-width="1.1"/>
<text x="171.2" y="447.3" font-size="8" text-anchor="middle" font-weight="normal" fill="#1e1e1e" stroke="#1e1e1e" stroke-width="0.18" >40</text>
<text transform="translate(119.6,460.1) scale(0.74,1)" font-size="9" text-anchor="middle" fill="#222" stroke="#222" stroke-width="0.3">Time (min)</text>
<text x="119.6" y="330.5" font-size="8.9" text-anchor="middle" font-weight="normal" fill="#1e1e1e" stroke="#1e1e1e" stroke-width="0.18" >Case III.II</text>
<text x="22.5" y="330.2" font-size="10.8" text-anchor="start" font-weight="bold" fill="#000" stroke="#000" stroke-width="0.3" >G</text>
<text transform="translate(35.8,385.7) rotate(-90) scale(0.815,1)" font-size="8" text-anchor="middle" fill="#222" stroke="#222" stroke-width="0.3">Thrombin (nM)</text>
<path d="M62.4,421.74 H176.8" stroke="#505050" stroke-width="1.1" stroke-dasharray="8.1 4.25" stroke-dashoffset="3.55"/>
<path d="M69.8,429.8 L70.32,429.8 L70.84,429.8 L71.36,429.8 L71.88,429.8 L72.4,429.8 L72.92,429.8 L73.44,429.8 L73.96,429.8 L74.48,429.79 L75,429.79 L75.52,429.79 L76.04,429.79 L76.56,429.79 L77.08,429.79 L77.6,429.78 L78.12,429.78 L78.64,429.78 L79.16,429.77 L79.68,429.77 L80.2,429.77 L80.72,429.76 L81.24,429.76 L81.76,429.75 L82.28,429.75 L82.8,429.74 L83.32,429.74 L83.84,429.73 L84.36,429.72 L84.88,429.72 L85.4,429.71 L85.92,429.7 L86.44,429.67 L86.96,429.48 L87.48,428.94 L88,428.05 L88.52,426.95 L89.04,425.81 L89.56,424.8 L90.08,424.04 L90.6,423.47 L91.12,422.97 L91.64,422.5 L92.16,422.07 L92.68,421.67 L93.2,421.3 L93.72,420.96 L94.24,420.65 L94.76,420.38 L95.28,420.15 L95.8,419.95 L96.32,419.77 L96.84,419.6 L97.36,419.43 L97.88,419.27 L98.4,419.12 L98.92,418.99 L99.44,418.87 L99.96,418.77 L100.48,418.69 L101,418.64 L101.52,418.61 L102.04,418.62 L102.56,418.67 L103.08,418.78 L103.6,418.92 L104.12,419.1 L104.64,419.31 L105.16,419.55 L105.68,419.81 L106.2,420.09 L106.72,420.37 L107.24,420.66 L107.76,420.94 L108.28,421.22 L108.8,421.49 L109.32,421.73 L109.84,421.96 L110.36,422.17 L110.88,422.39 L111.4,422.62 L111.92,422.85 L112.44,423.08 L112.96,423.32 L113.48,423.55 L114,423.78 L114.52,424 L115.04,424.22 L115.56,424.43 L116.08,424.64 L116.6,424.83 L117.12,425 L117.64,425.16 L118.16,425.31 L118.68,425.43 L119.2,425.54 L119.72,425.63 L120.24,425.72 L120.76,425.79 L121.28,425.87 L121.8,425.93 L122.32,425.99 L122.84,426.05 L123.36,426.11 L123.88,426.16 L124.4,426.21 L124.92,426.26 L125.44,426.31 L125.96,426.36 L126.48,426.41 L127,426.46 L127.52,426.52 L128.04,426.58 L128.56,426.64 L129.08,426.71 L129.6,426.78 L130.12,426.86 L130.64,426.94 L131.16,427.04 L131.68,427.14 L132.2,427.24 L132.72,427.35 L133.24,427.46 L133.76,427.57 L134.28,427.68 L134.8,427.79 L135.32,427.9 L135.84,428.01 L136.36,428.11 L136.88,428.22 L137.4,428.31 L137.92,428.4 L138.44,428.48 L138.96,428.56 L139.48,428.62 L140,428.68 L140.52,428.73 L141.04,428.78 L141.56,428.82 L142.08,428.87 L142.6,428.91 L143.12,428.96 L143.64,429 L144.16,429.04 L144.68,429.08 L145.2,429.11 L145.72,429.15 L146.24,429.18 L146.76,429.21 L147.28,429.24 L147.8,429.26 L148.32,429.29 L148.84,429.31 L149.36,429.32 L149.88,429.34 L150.4,429.35 L150.92,429.36 L151.44,429.37 L151.96,429.38 L152.48,429.39 L153,429.4 L153.52,429.41 L154.04,429.42 L154.56,429.43 L155.08,429.44 L155.6,429.45 L156.12,429.45 L156.64,429.46 L157.16,429.47 L157.68,429.48 L158.2,429.48 L158.72,429.49 L159.24,429.5 L159.76,429.5 L160.28,429.51 L160.8,429.52 L161.32,429.52 L161.84,429.53 L162.36,429.53 L162.88,429.54 L163.4,429.54 L163.92,429.55 L164.44,429.55 L164.96,429.55 L165.48,429.56 L166,429.56 L166.52,429.56 L167.04,429.57 L167.56,429.57 L168.08,429.57 L168.6,429.57 L169.12,429.57 L169.64,429.57 L170.16,429.58 L170.68,429.58 L171.2,429.58" fill="none" stroke="#8fcf8f" stroke-width="0.9" stroke-opacity="1.0" stroke-linejoin="round" stroke-linecap="round"/>
<path d="M69.8,429.8 L70.32,429.8 L70.84,429.8 L71.36,429.8 L71.88,429.8 L72.4,429.8 L72.92,429.8 L73.44,429.79 L73.96,429.79 L74.48,429.79 L75,429.79 L75.52,429.78 L76.04,429.78 L76.56,429.77 L77.08,429.77 L77.6,429.77 L78.12,429.76 L78.64,429.75 L79.16,429.75 L79.68,429.74 L80.2,429.73 L80.72,429.73 L81.24,429.72 L81.76,429.71 L82.28,429.69 L82.8,429.63 L83.32,429.35 L83.84,428.75 L84.36,427.87 L84.88,426.79 L85.4,425.62 L85.92,424.44 L86.44,423.35 L86.96,422.45 L87.48,421.78 L88,421.28 L88.52,420.82 L89.04,420.38 L89.56,419.96 L90.08,419.57 L90.6,419.2 L91.12,418.87 L91.64,418.58 L92.16,418.34 L92.68,418.15 L93.2,418.02 L93.72,417.96 L94.24,417.98 L94.76,418.12 L95.28,418.37 L95.8,418.73 L96.32,419.16 L96.84,419.66 L97.36,420.19 L97.88,420.75 L98.4,421.31 L98.92,421.85 L99.44,422.35 L99.96,422.8 L100.48,423.18 L101,423.51 L101.52,423.83 L102.04,424.14 L102.56,424.45 L103.08,424.74 L103.6,425.03 L104.12,425.3 L104.64,425.56 L105.16,425.81 L105.68,426.05 L106.2,426.27 L106.72,426.47 L107.24,426.66 L107.76,426.84 L108.28,427.02 L108.8,427.2 L109.32,427.37 L109.84,427.54 L110.36,427.71 L110.88,427.87 L111.4,428.03 L111.92,428.18 L112.44,428.31 L112.96,428.45 L113.48,428.56 L114,428.67 L114.52,428.77 L115.04,428.85 L115.56,428.92 L116.08,428.97 L116.6,429.01 L117.12,429.04 L117.64,429.07 L118.16,429.1 L118.68,429.12 L119.2,429.15 L119.72,429.17 L120.24,429.19 L120.76,429.21 L121.28,429.23 L121.8,429.25 L122.32,429.27 L122.84,429.29 L123.36,429.31 L123.88,429.32 L124.4,429.34 L124.92,429.35 L125.44,429.36 L125.96,429.38 L126.48,429.39 L127,429.4 L127.52,429.41 L128.04,429.42 L128.56,429.43 L129.08,429.43 L129.6,429.44 L130.12,429.45 L130.64,429.45 L131.16,429.46 L131.68,429.46 L132.2,429.46 L132.72,429.47 L133.24,429.47 L133.76,429.47 L134.28,429.48 L134.8,429.48 L135.32,429.48 L135.84,429.48 L136.36,429.49 L136.88,429.49 L137.4,429.49 L137.92,429.5 L138.44,429.5 L138.96,429.5 L139.48,429.5 L140,429.51 L140.52,429.51 L141.04,429.51 L141.56,429.51 L142.08,429.51 L142.6,429.52 L143.12,429.52 L143.64,429.52 L144.16,429.52 L144.68,429.53 L145.2,429.53 L145.72,429.53 L146.24,429.53 L146.76,429.53 L147.28,429.53 L147.8,429.54 L148.32,429.54 L148.84,429.54 L149.36,429.54 L149.88,429.54 L150.4,429.55 L150.92,429.55 L151.44,429.55 L151.96,429.55 L152.48,429.55 L153,429.55 L153.52,429.55 L154.04,429.56 L154.56,429.56 L155.08,429.56 L155.6,429.56 L156.12,429.56 L156.64,429.56 L157.16,429.56 L157.68,429.56 L158.2,429.56 L158.72,429.56 L159.24,429.57 L159.76,429.57 L160.28,429.57 L160.8,429.57 L161.32,429.57 L161.84,429.57 L162.36,429.57 L162.88,429.57 L163.4,429.57 L163.92,429.57 L164.44,429.57 L164.96,429.57 L165.48,429.57 L166,429.57 L166.52,429.57 L167.04,429.57 L167.56,429.58 L168.08,429.58 L168.6,429.58 L169.12,429.58 L169.64,429.58 L170.16,429.58 L170.68,429.58 L171.2,429.58" fill="none" stroke="#3f8f5f" stroke-width="1.0" stroke-opacity="1.0" stroke-linejoin="round" stroke-linecap="round"/>
<path d="M69.8,429.8 L70.32,429.8 L70.84,429.8 L71.36,429.8 L71.88,429.79 L72.4,429.79 L72.92,429.79 L73.44,429.78 L73.96,429.77 L74.48,429.77 L75,429.76 L75.52,429.74 L76.04,429.73 L76.56,429.71 L77.08,429.6 L77.6,428.93 L78.12,427.13 L78.64,424.47 L79.16,421.43 L79.68,417.91 L80.2,413.99 L80.72,410.04 L81.24,406.49 L81.76,403.63 L82.28,401.28 L82.8,399.15 L83.32,397.28 L83.84,395.86 L84.36,395.06 L84.88,394.85 L85.4,395.01 L85.92,395.35 L86.44,395.83 L86.96,396.42 L87.48,397.13 L88,398.11 L88.52,399.66 L89.04,401.74 L89.56,404.11 L90.08,406.48 L90.6,408.57 L91.12,410.2 L91.64,411.45 L92.16,412.55 L92.68,413.58 L93.2,414.53 L93.72,415.42 L94.24,416.24 L94.76,417 L95.28,417.7 L95.8,418.34 L96.32,418.93 L96.84,419.46 L97.36,419.95 L97.88,420.41 L98.4,420.84 L98.92,421.26 L99.44,421.65 L99.96,422.02 L100.48,422.37 L101,422.71 L101.52,423.03 L102.04,423.33 L102.56,423.62 L103.08,423.89 L103.6,424.16 L104.12,424.41 L104.64,424.64 L105.16,424.87 L105.68,425.09 L106.2,425.31 L106.72,425.52 L107.24,425.73 L107.76,425.93 L108.28,426.13 L108.8,426.32 L109.32,426.5 L109.84,426.68 L110.36,426.85 L110.88,427.01 L111.4,427.17 L111.92,427.31 L112.44,427.44 L112.96,427.56 L113.48,427.67 L114,427.77 L114.52,427.86 L115.04,427.93 L115.56,428 L116.08,428.07 L116.6,428.13 L117.12,428.19 L117.64,428.26 L118.16,428.31 L118.68,428.37 L119.2,428.43 L119.72,428.48 L120.24,428.53 L120.76,428.58 L121.28,428.62 L121.8,428.67 L122.32,428.71 L122.84,428.75 L123.36,428.79 L123.88,428.83 L124.4,428.87 L124.92,428.9 L125.44,428.93 L125.96,428.96 L126.48,428.99 L127,429.02 L127.52,429.04 L128.04,429.07 L128.56,429.09 L129.08,429.11 L129.6,429.13 L130.12,429.15 L130.64,429.16 L131.16,429.18 L131.68,429.2 L132.2,429.21 L132.72,429.23 L133.24,429.24 L133.76,429.26 L134.28,429.27 L134.8,429.29 L135.32,429.3 L135.84,429.31 L136.36,429.32 L136.88,429.34 L137.4,429.35 L137.92,429.36 L138.44,429.37 L138.96,429.38 L139.48,429.39 L140,429.4 L140.52,429.41 L141.04,429.42 L141.56,429.42 L142.08,429.43 L142.6,429.44 L143.12,429.44 L143.64,429.45 L144.16,429.45 L144.68,429.46 L145.2,429.46 L145.72,429.47 L146.24,429.47 L146.76,429.48 L147.28,429.48 L147.8,429.48 L148.32,429.49 L148.84,429.49 L149.36,429.49 L149.88,429.5 L150.4,429.5 L150.92,429.5 L151.44,429.51 L151.96,429.51 L152.48,429.51 L153,429.52 L153.52,429.52 L154.04,429.52 L154.56,429.53 L155.08,429.53 L155.6,429.53 L156.12,429.53 L156.64,429.54 L157.16,429.54 L157.68,429.54 L158.2,429.54 L158.72,429.55 L159.24,429.55 L159.76,429.55 L160.28,429.55 L160.8,429.56 L161.32,429.56 L161.84,429.56 L162.36,429.56 L162.88,429.56 L163.4,429.56 L163.92,429.57 L164.44,429.57 L164.96,429.57 L165.48,429.57 L166,429.57 L166.52,429.57 L167.04,429.57 L167.56,429.57 L168.08,429.57 L168.6,429.57 L169.12,429.58 L169.64,429.58 L170.16,429.58 L170.68,429.58 L171.2,429.58" fill="none" stroke="#45b0e0" stroke-width="1.0" stroke-opacity="1.0" stroke-linejoin="round" stroke-linecap="round"/>
<path d="M69.8,429.8 L70.32,429.8 L70.84,429.8 L71.36,429.8 L71.88,429.79 L72.4,429.79 L72.92,429.78 L73.44,429.77 L73.96,429.76 L74.48,429.75 L75,429.73 L75.52,429.71 L76.04,429.58 L76.56,428.76 L77.08,426.43 L77.6,422.76 L78.12,418.29 L78.64,412.72 L79.16,405.89 L79.68,398.68 L80.2,392.32 L80.72,387.68 L81.24,384.44 L81.76,381.88 L82.28,379.94 L82.8,378.85 L83.32,378.73 L83.84,379.38 L84.36,380.45 L84.88,381.64 L85.4,382.89 L85.92,384.24 L86.44,385.71 L86.96,387.27 L87.48,388.93 L88,390.71 L88.52,392.55 L89.04,394.39 L89.56,396.2 L90.08,398 L90.6,399.83 L91.12,401.66 L91.64,403.44 L92.16,405.1 L92.68,406.6 L93.2,407.92 L93.72,409.08 L94.24,410.16 L94.76,411.18 L95.28,412.15 L95.8,413.06 L96.32,413.93 L96.84,414.76 L97.36,415.54 L97.88,416.28 L98.4,416.98 L98.92,417.65 L99.44,418.29 L99.96,418.9 L100.48,419.49 L101,420.08 L101.52,420.65 L102.04,421.2 L102.56,421.74 L103.08,422.25 L103.6,422.75 L104.12,423.22 L104.64,423.66 L105.16,424.08 L105.68,424.46 L106.2,424.81 L106.72,425.13 L107.24,425.41 L107.76,425.66 L108.28,425.9 L108.8,426.12 L109.32,426.34 L109.84,426.55 L110.36,426.76 L110.88,426.95 L111.4,427.13 L111.92,427.31 L112.44,427.47 L112.96,427.62 L113.48,427.77 L114,427.89 L114.52,428.01 L115.04,428.11 L115.56,428.2 L116.08,428.28 L116.6,428.34 L117.12,428.4 L117.64,428.45 L118.16,428.5 L118.68,428.54 L119.2,428.59 L119.72,428.63 L120.24,428.67 L120.76,428.71 L121.28,428.75 L121.8,428.78 L122.32,428.82 L122.84,428.85 L123.36,428.88 L123.88,428.91 L124.4,428.94 L124.92,428.97 L125.44,429 L125.96,429.02 L126.48,429.04 L127,429.07 L127.52,429.09 L128.04,429.11 L128.56,429.13 L129.08,429.15 L129.6,429.16 L130.12,429.18 L130.64,429.2 L131.16,429.21 L131.68,429.23 L132.2,429.24 L132.72,429.25 L133.24,429.27 L133.76,429.28 L134.28,429.29 L134.8,429.3 L135.32,429.32 L135.84,429.33 L136.36,429.34 L136.88,429.35 L137.4,429.36 L137.92,429.37 L138.44,429.38 L138.96,429.39 L139.48,429.4 L140,429.4 L140.52,429.41 L141.04,429.42 L141.56,429.43 L142.08,429.43 L142.6,429.44 L143.12,429.44 L143.64,429.45 L144.16,429.46 L144.68,429.46 L145.2,429.46 L145.72,429.47 L146.24,429.47 L146.76,429.48 L147.28,429.48 L147.8,429.48 L148.32,429.49 L148.84,429.49 L149.36,429.49 L149.88,429.5 L150.4,429.5 L150.92,429.5 L151.44,429.51 L151.96,429.51 L152.48,429.51 L153,429.52 L153.52,429.52 L154.04,429.52 L154.56,429.53 L155.08,429.53 L155.6,429.53 L156.12,429.53 L156.64,429.54 L157.16,429.54 L157.68,429.54 L158.2,429.54 L158.72,429.55 L159.24,429.55 L159.76,429.55 L160.28,429.55 L160.8,429.55 L161.32,429.56 L161.84,429.56 L162.36,429.56 L162.88,429.56 L163.4,429.56 L163.92,429.57 L164.44,429.57 L164.96,429.57 L165.48,429.57 L166,429.57 L166.52,429.57 L167.04,429.57 L167.56,429.57 L168.08,429.57 L168.6,429.57 L169.12,429.58 L169.64,429.58 L170.16,429.58 L170.68,429.58 L171.2,429.58" fill="none" stroke="#de8a4e" stroke-width="1.0" stroke-opacity="1.0" stroke-linejoin="round" stroke-linecap="round"/>
<path d="M69.8,429.8 L70.32,429.8 L70.84,429.8 L71.36,429.79 L71.88,429.79 L72.4,429.78 L72.92,429.77 L73.44,429.75 L73.96,429.73 L74.48,429.67 L75,429.17 L75.52,427.09 L76.04,423.01 L76.56,417.15 L77.08,409.22 L77.6,399.69 L78.12,389.8 L78.64,380 L79.16,370.36 L79.68,362.74 L80.2,358.58 L80.72,357 L81.24,357.29 L81.76,359.07 L82.28,361.55 L82.8,364.42 L83.32,367.66 L83.84,370.98 L84.36,374.03 L84.88,376.75 L85.4,379.3 L85.92,381.74 L86.44,384.08 L86.96,386.32 L87.48,388.48 L88,390.54 L88.52,392.53 L89.04,394.44 L89.56,396.28 L90.08,398.05 L90.6,399.77 L91.12,401.41 L91.64,403 L92.16,404.52 L92.68,405.98 L93.2,407.39 L93.72,408.74 L94.24,410.05 L94.76,411.3 L95.28,412.49 L95.8,413.6 L96.32,414.63 L96.84,415.57 L97.36,416.46 L97.88,417.32 L98.4,418.13 L98.92,418.89 L99.44,419.61 L99.96,420.26 L100.48,420.86 L101,421.39 L101.52,421.87 L102.04,422.32 L102.56,422.76 L103.08,423.16 L103.6,423.55 L104.12,423.91 L104.64,424.26 L105.16,424.58 L105.68,424.88 L106.2,425.15 L106.72,425.41 L107.24,425.65 L107.76,425.88 L108.28,426.11 L108.8,426.33 L109.32,426.54 L109.84,426.75 L110.36,426.95 L110.88,427.15 L111.4,427.34 L111.92,427.51 L112.44,427.68 L112.96,427.84 L113.48,427.99 L114,428.12 L114.52,428.24 L115.04,428.34 L115.56,428.43 L116.08,428.51 L116.6,428.57 L117.12,428.61 L117.64,428.66 L118.16,428.7 L118.68,428.75 L119.2,428.79 L119.72,428.83 L120.24,428.86 L120.76,428.9 L121.28,428.93 L121.8,428.97 L122.32,429 L122.84,429.03 L123.36,429.06 L123.88,429.09 L124.4,429.11 L124.92,429.14 L125.44,429.16 L125.96,429.18 L126.48,429.2 L127,429.22 L127.52,429.24 L128.04,429.26 L128.56,429.27 L129.08,429.29 L129.6,429.3 L130.12,429.31 L130.64,429.32 L131.16,429.33 L131.68,429.34 L132.2,429.35 L132.72,429.36 L133.24,429.37 L133.76,429.37 L134.28,429.38 L134.8,429.39 L135.32,429.39 L135.84,429.4 L136.36,429.41 L136.88,429.41 L137.4,429.42 L137.92,429.42 L138.44,429.43 L138.96,429.43 L139.48,429.44 L140,429.44 L140.52,429.45 L141.04,429.45 L141.56,429.45 L142.08,429.46 L142.6,429.46 L143.12,429.46 L143.64,429.46 L144.16,429.46 L144.68,429.46 L145.2,429.46 L145.72,429.46 L146.24,429.46 L146.76,429.46 L147.28,429.46 L147.8,429.46 L148.32,429.46 L148.84,429.45 L149.36,429.45 L149.88,429.45 L150.4,429.44 L150.92,429.44 L151.44,429.43 L151.96,429.43 L152.48,429.42 L153,429.42 L153.52,429.41 L154.04,429.4 L154.56,429.39 L155.08,429.39 L155.6,429.38 L156.12,429.37 L156.64,429.35 L157.16,429.32 L157.68,429.22 L158.2,429.07 L158.72,428.85 L159.24,428.59 L159.76,428.3 L160.28,427.99 L160.8,427.68 L161.32,427.37 L161.84,427.08 L162.36,426.82 L162.88,426.61 L163.4,426.45 L163.92,426.32 L164.44,426.2 L164.96,426.08 L165.48,425.97 L166,425.87 L166.52,425.77 L167.04,425.68 L167.56,425.61 L168.08,425.54 L168.6,425.49 L169.12,425.46 L169.64,425.44" fill="none" stroke="#2b4d78" stroke-width="1.0" stroke-opacity="1.0" stroke-linejoin="round" stroke-linecap="round"/>
<path d="M69.8,429.8 L70.32,429.8 L70.84,429.8 L71.36,429.79 L71.88,429.79 L72.4,429.78 L72.92,429.77 L73.44,429.76 L73.96,429.74 L74.48,429.72 L75,429.54 L75.52,428.39 L76.04,425.27 L76.56,420.32 L77.08,413.45 L77.6,404.57 L78.12,394.73 L78.64,384.88 L79.16,374.99 L79.68,366.03 L80.2,360.31 L80.72,357.94 L81.24,357.63 L81.76,358.99 L82.28,361.32 L82.8,363.88 L83.32,366.58 L83.84,369.42 L84.36,372.23 L84.88,374.86 L85.4,377.29 L85.92,379.62 L86.44,381.89 L86.96,384.08 L87.48,386.21 L88,388.26 L88.52,390.23 L89.04,392.13 L89.56,393.94 L90.08,395.68 L90.6,397.36 L91.12,398.99 L91.64,400.56 L92.16,402.08 L92.68,403.54 L93.2,404.95 L93.72,406.3 L94.24,407.61 L94.76,408.89 L95.28,410.13 L95.8,411.33 L96.32,412.48 L96.84,413.55 L97.36,414.54 L97.88,415.44 L98.4,416.28 L98.92,417.06 L99.44,417.81 L99.96,418.52 L100.48,419.19 L101,419.81 L101.52,420.39 L102.04,420.91 L102.56,421.39 L103.08,421.83 L103.6,422.25 L104.12,422.65 L104.64,423.03 L105.16,423.4 L105.68,423.74 L106.2,424.07 L106.72,424.38 L107.24,424.67 L107.76,424.94 L108.28,425.2 L108.8,425.43 L109.32,425.65 L109.84,425.86 L110.36,426.07 L110.88,426.27 L111.4,426.46 L111.92,426.65 L112.44,426.84 L112.96,427.02 L113.48,427.19 L114,427.36 L114.52,427.51 L115.04,427.66 L115.56,427.8 L116.08,427.93 L116.6,428.05 L117.12,428.15 L117.64,428.25 L118.16,428.33 L118.68,428.4 L119.2,428.45 L119.72,428.5 L120.24,428.55 L120.76,428.59 L121.28,428.63 L121.8,428.66 L122.32,428.7 L122.84,428.74 L123.36,428.77 L123.88,428.8 L124.4,428.83 L124.92,428.86 L125.44,428.88 L125.96,428.91 L126.48,428.93 L127,428.96 L127.52,428.98 L128.04,429 L128.56,429.02 L129.08,429.03 L129.6,429.05 L130.12,429.07 L130.64,429.08 L131.16,429.1 L131.68,429.11 L132.2,429.13 L132.72,429.14 L133.24,429.15 L133.76,429.17 L134.28,429.18 L134.8,429.19 L135.32,429.2 L135.84,429.21 L136.36,429.22 L136.88,429.24 L137.4,429.25 L137.92,429.26 L138.44,429.26 L138.96,429.27 L139.48,429.28 L140,429.29 L140.52,429.3 L141.04,429.31 L141.56,429.31 L142.08,429.32 L142.6,429.33 L143.12,429.33 L143.64,429.34 L144.16,429.34 L144.68,429.35 L145.2,429.35 L145.72,429.36 L146.24,429.36 L146.76,429.36 L147.28,429.37 L147.8,429.37 L148.32,429.38 L148.84,429.38 L149.36,429.38 L149.88,429.39 L150.4,429.39 L150.92,429.39 L151.44,429.4 L151.96,429.4 L152.48,429.4 L153,429.41 L153.52,429.41 L154.04,429.41 L154.56,429.42 L155.08,429.42 L155.6,429.42 L156.12,429.42 L156.64,429.43 L157.16,429.43 L157.68,429.43 L158.2,429.44 L158.72,429.44 L159.24,429.44 L159.76,429.44 L160.28,429.44 L160.8,429.45 L161.32,429.45 L161.84,429.45 L162.36,429.45 L162.88,429.45 L163.4,429.45 L163.92,429.46 L164.44,429.46 L164.96,429.46 L165.48,429.46 L166,429.46 L166.52,429.46 L167.04,429.46 L167.56,429.46 L168.08,429.46 L168.6,429.46 L169.12,429.46 L169.64,429.46" fill="none" stroke="#2f5f6a" stroke-width="1.0" stroke-opacity="1.0" stroke-linejoin="round" stroke-linecap="round"/>
<path d="M69.54,429.8 L70.06,429.8 L70.58,429.8 L71.1,429.8 L71.62,429.8 L72.14,429.8 L72.66,429.8 L73.18,429.8 L73.7,429.8 L74.22,429.8 L74.74,429.8 L75.26,429.8 L75.78,429.8 L76.3,429.8 L76.82,429.8 L77.34,429.8 L77.86,429.8 L78.38,429.8 L78.9,429.8 L79.42,429.8 L79.94,429.79 L80.46,429.79 L80.98,429.79 L81.5,429.79 L82.02,429.79 L82.54,429.79 L83.06,429.79 L83.58,429.79 L84.1,429.79 L84.62,429.79 L85.14,429.79 L85.66,429.79 L86.18,429.78 L86.7,429.78 L87.22,429.78 L87.74,429.78 L88.26,429.78 L88.78,429.78 L89.3,429.78 L89.82,429.78 L90.34,429.77 L90.86,429.77 L91.38,429.77 L91.9,429.77 L92.42,429.77 L92.94,429.77 L93.46,429.76 L93.98,429.76 L94.5,429.76 L95.02,429.76 L95.54,429.76 L96.06,429.75 L96.58,429.75 L97.1,429.75 L97.62,429.75 L98.14,429.74 L98.66,429.74 L99.18,429.72 L99.7,429.7 L100.22,429.67 L100.74,429.63 L101.26,429.58 L101.78,429.52 L102.3,429.47 L102.82,429.41 L103.34,429.34 L103.86,429.28 L104.38,429.22 L104.9,429.16 L105.42,429.1 L105.94,429.03 L106.46,428.97 L106.98,428.89 L107.5,428.82 L108.02,428.74 L108.54,428.66 L109.06,428.57 L109.58,428.49 L110.1,428.41 L110.62,428.32 L111.14,428.24 L111.66,428.16 L112.18,428.08 L112.7,428.01 L113.22,427.94 L113.74,427.87 L114.26,427.81 L114.78,427.76 L115.3,427.7 L115.82,427.65 L116.34,427.59 L116.86,427.53 L117.38,427.48 L117.9,427.42 L118.42,427.37 L118.94,427.32 L119.46,427.27 L119.98,427.22 L120.5,427.18 L121.02,427.14 L121.54,427.1 L122.06,427.07 L122.58,427.04 L123.1,427.02 L123.62,427.01 L124.14,427 L124.66,427 L125.18,427 L125.7,427 L126.22,427 L126.74,427 L127.26,427 L127.78,427 L128.3,427 L128.82,427 L129.34,427 L129.86,427 L130.38,427 L130.9,427 L131.42,427 L131.94,427 L132.46,427.01 L132.98,427.03 L133.5,427.07 L134.02,427.13 L134.54,427.2 L135.06,427.29 L135.58,427.38 L136.1,427.49 L136.62,427.59 L137.14,427.7 L137.66,427.81 L138.18,427.92 L138.7,428.02 L139.22,428.11 L139.74,428.19 L140.26,428.27 L140.78,428.34 L141.3,428.42 L141.82,428.5 L142.34,428.57 L142.86,428.65 L143.38,428.73 L143.9,428.8 L144.42,428.87 L144.94,428.94 L145.46,429.01 L145.98,429.06 L146.5,429.11 L147.02,429.16 L147.54,429.19 L148.06,429.22 L148.58,429.24 L149.1,429.25 L149.62,429.26 L150.14,429.27 L150.66,429.28 L151.18,429.29 L151.7,429.3 L152.22,429.31 L152.74,429.31 L153.26,429.32 L153.78,429.33 L154.3,429.33 L154.82,429.34 L155.34,429.34 L155.86,429.34 L156.38,429.35 L156.9,429.35 L157.42,429.35 L157.94,429.35 L158.46,429.35 L158.98,429.35 L159.5,429.35 L160.02,429.35 L160.54,429.35 L161.06,429.35 L161.58,429.35 L162.1,429.35 L162.62,429.35 L163.14,429.35 L163.66,429.35 L164.18,429.35 L164.7,429.35 L165.22,429.35 L165.74,429.35 L166.26,429.35 L166.78,429.35 L167.3,429.35 L167.82,429.35 L168.34,429.35 L168.86,429.35 L169.38,429.35 L169.9,429.35" fill="none" stroke="#dc5a96" stroke-width="1.3" stroke-opacity="1.0" stroke-linejoin="round" stroke-linecap="round"/>
<text transform="translate(17.6,401.3) rotate(-90)" font-size="8.7" text-anchor="start" fill="#1e1e1e" stroke="#1e1e1e" stroke-width="0.15">FEIBA</text>
<text transform="translate(14.6,374.4) rotate(-90)" font-size="5.8" text-anchor="start" fill="#222" stroke="#222" stroke-width="0.35">®</text>
<path d="M218.5,379.2 H235.2" stroke="#cfcfcf" stroke-width="1"/>
<path d="M220.8,390.8 H235.2" stroke="#d9468a" stroke-width="1"/>
<text x="238.9" y="381.5" font-size="6.95" text-anchor="start" font-weight="normal" fill="#1e1e1e" stroke="#1e1e1e" stroke-width="0.18" >Pooled normal plasma (control)</text>
<text x="238.9" y="392.6" font-size="6.95" text-anchor="start" font-weight="normal" fill="#1e1e1e" stroke="#1e1e1e" stroke-width="0.18" >Unspiked plasma</text>
<text x="380.2" y="365.2" font-size="6.9" text-anchor="start" font-weight="normal" fill="#1e1e1e" stroke="#1e1e1e" stroke-width="0.18" >In vitro spike in:</text>
<path d="M379.6,373.5 H394" stroke="#7cc07f" stroke-width="1.1"/>
<text x="397.5" y="376.7" font-size="7.1" text-anchor="start" font-weight="normal" fill="#1e1e1e" stroke="#1e1e1e" stroke-width="0.18" >0.1 U/mL</text>
<path d="M379.6,384.65 H394" stroke="#6cc0ea" stroke-width="1.1"/>
<text x="397.5" y="387.85" font-size="7.1" text-anchor="start" font-weight="normal" fill="#1e1e1e" stroke="#1e1e1e" stroke-width="0.18" >0.25 U/mL</text>
<path d="M379.6,395.8 H394" stroke="#d6a070" stroke-width="1.1"/>
<text x="397.5" y="399" font-size="7.1" text-anchor="start" font-weight="normal" fill="#1e1e1e" stroke="#1e1e1e" stroke-width="0.18" >0.50 U/mL</text>
<path d="M379.6,406.95 H394" stroke="#4a6890" stroke-width="1.1"/>
<text x="397.5" y="410.15" font-size="7.1" text-anchor="start" font-weight="normal" fill="#1e1e1e" stroke="#1e1e1e" stroke-width="0.18" >1.0 U/mL</text>
<rect x="0" y="0" width="520" height="1" fill="#6e6e6e"/>
<rect x="0" y="0" width="1" height="469" fill="#585858"/>
<rect x="519" y="0" width="1" height="469" fill="#505050"/>
<rect x="0" y="468" width="520" height="1" fill="#505050"/>
</svg>
</body></html>
